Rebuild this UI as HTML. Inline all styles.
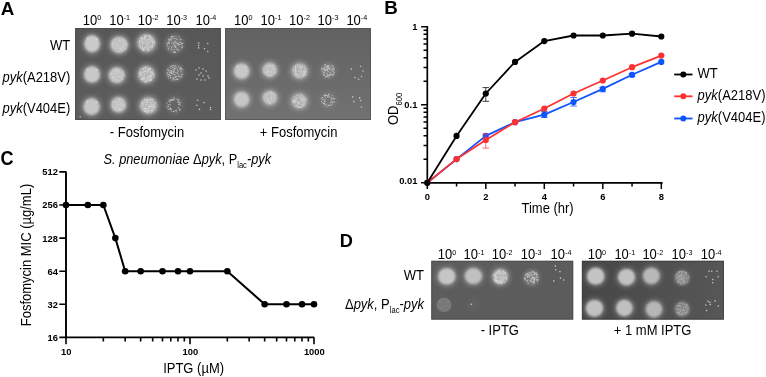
<!DOCTYPE html><html><head><meta charset="utf-8"><style>html,body{margin:0;padding:0;background:#fff;width:766px;height:377px;overflow:hidden}svg{display:block;will-change:transform}</style></head><body><svg width="766" height="377" viewBox="0 0 766 377" font-family="Liberation Sans, sans-serif">
<defs><filter id="b1" x="-30%" y="-30%" width="160%" height="160%"><feGaussianBlur stdDeviation="0.65"/></filter><filter id="b1s" x="-40%" y="-40%" width="180%" height="180%"><feGaussianBlur stdDeviation="0.9"/></filter><filter id="b05" x="-100%" y="-100%" width="300%" height="300%"><feGaussianBlur stdDeviation="0.5"/></filter><filter id="b03" x="-100%" y="-100%" width="300%" height="300%"><feGaussianBlur stdDeviation="0.3"/></filter><filter id="b2" x="-50%" y="-50%" width="200%" height="200%"><feGaussianBlur stdDeviation="2.3"/></filter><linearGradient id="gD2" x1="0" y1="0" x2="1" y2="0"><stop offset="0" stop-color="#464646"/><stop offset="1" stop-color="#575757"/></linearGradient><linearGradient id="gA2" x1="0" y1="0" x2="0" y2="1"><stop offset="0" stop-color="#616161"/><stop offset="1" stop-color="#727272"/></linearGradient><linearGradient id="gA1" x1="0" y1="0" x2="0" y2="1"><stop offset="0" stop-color="#575757"/><stop offset="1" stop-color="#5d5d5d"/></linearGradient></defs>
<rect width="766" height="377" fill="#fff"/>
<text transform="translate(0.80,14.50) scale(1.0,0.985)" font-size="18.8" text-anchor="start" font-weight="bold" font-style="normal" fill="#000">A</text>
<text transform="translate(384.20,14.30) scale(1.0,0.985)" font-size="18.8" text-anchor="start" font-weight="bold" font-style="normal" fill="#000">B</text>
<text transform="translate(0.60,164.70) scale(1.0,1.075)" font-size="18.1" text-anchor="start" font-weight="bold" font-style="normal" fill="#000">C</text>
<text transform="translate(339.70,246.70) scale(1.0,1.02)" font-size="18.2" text-anchor="start" font-weight="bold" font-style="normal" fill="#000">D</text>
<rect x="75" y="28" width="146" height="92" fill="url(#gA1)"/>
<rect x="75.5" y="28.5" width="145" height="91" fill="none" stroke="#4c4c4c" stroke-width="1" opacity="0.8"/>
<rect x="225" y="28" width="146" height="92" fill="url(#gA2)"/>
<rect x="225.5" y="28.5" width="145" height="91" fill="none" stroke="#545454" stroke-width="1" opacity="0.8"/>
<text transform="translate(92.10,24.60) scale(1.0,1.08)" font-size="13" text-anchor="middle" font-weight="normal" font-style="normal" fill="#000">10<tspan font-size="7.2" dy="-4.0">0</tspan></text>
<text transform="translate(119.70,24.60) scale(1.0,1.08)" font-size="13" text-anchor="middle" font-weight="normal" font-style="normal" fill="#000">10<tspan font-size="7.2" dy="-4.0">-1</tspan></text>
<text transform="translate(148.20,24.60) scale(1.0,1.08)" font-size="13" text-anchor="middle" font-weight="normal" font-style="normal" fill="#000">10<tspan font-size="7.2" dy="-4.0">-2</tspan></text>
<text transform="translate(176.70,24.60) scale(1.0,1.08)" font-size="13" text-anchor="middle" font-weight="normal" font-style="normal" fill="#000">10<tspan font-size="7.2" dy="-4.0">-3</tspan></text>
<text transform="translate(205.90,24.60) scale(1.0,1.08)" font-size="13" text-anchor="middle" font-weight="normal" font-style="normal" fill="#000">10<tspan font-size="7.2" dy="-4.0">-4</tspan></text>
<text transform="translate(243.30,24.60) scale(1.0,1.08)" font-size="13" text-anchor="middle" font-weight="normal" font-style="normal" fill="#000">10<tspan font-size="7.2" dy="-4.0">0</tspan></text>
<text transform="translate(271.00,24.60) scale(1.0,1.08)" font-size="13" text-anchor="middle" font-weight="normal" font-style="normal" fill="#000">10<tspan font-size="7.2" dy="-4.0">-1</tspan></text>
<text transform="translate(299.50,24.60) scale(1.0,1.08)" font-size="13" text-anchor="middle" font-weight="normal" font-style="normal" fill="#000">10<tspan font-size="7.2" dy="-4.0">-2</tspan></text>
<text transform="translate(328.00,24.60) scale(1.0,1.08)" font-size="13" text-anchor="middle" font-weight="normal" font-style="normal" fill="#000">10<tspan font-size="7.2" dy="-4.0">-3</tspan></text>
<text transform="translate(356.80,24.60) scale(1.0,1.08)" font-size="13" text-anchor="middle" font-weight="normal" font-style="normal" fill="#000">10<tspan font-size="7.2" dy="-4.0">-4</tspan></text>
<ellipse cx="92.1" cy="43.8" rx="10.2" ry="10.9" fill="#fff" opacity="0.24" filter="url(#b2)"/>
<ellipse cx="92.1" cy="43.8" rx="7.8" ry="8.5" fill="#cacaca" filter="url(#b1s)"/>
<circle cx="87.8" cy="38.5" r="0.9" fill="#d8d8d8" filter="url(#b05)"/>
<circle cx="96.8" cy="39.0" r="0.9" fill="#d8d8d8" filter="url(#b05)"/>
<ellipse cx="119.2" cy="44.8" rx="11.299999999999999" ry="10.9" fill="#fff" opacity="0.24" filter="url(#b2)"/>
<ellipse cx="119.2" cy="44.8" rx="8.799999999999999" ry="8.4" fill="#c0c0c0" filter="url(#b1s)"/>
<g fill="#dadada" filter="url(#b03)"><circle cx="113.5" cy="46.5" r="0.45"/><circle cx="124.1" cy="42.4" r="0.45"/><circle cx="113.1" cy="44.5" r="0.45"/><circle cx="121.5" cy="49.8" r="0.45"/><circle cx="114.3" cy="39.8" r="0.45"/><circle cx="122.9" cy="47.1" r="0.45"/><circle cx="125.3" cy="48.5" r="0.45"/><circle cx="118.6" cy="43.3" r="0.45"/><circle cx="127.0" cy="44.0" r="0.45"/><circle cx="115.6" cy="39.9" r="0.45"/><circle cx="119.7" cy="45.6" r="0.45"/><circle cx="117.3" cy="44.5" r="0.45"/><circle cx="120.6" cy="48.3" r="0.45"/><circle cx="124.6" cy="45.8" r="0.45"/><circle cx="112.4" cy="47.4" r="0.45"/><circle cx="112.8" cy="44.1" r="0.45"/><circle cx="112.7" cy="44.8" r="0.45"/><circle cx="115.1" cy="45.9" r="0.45"/><circle cx="127.2" cy="44.7" r="0.45"/><circle cx="122.8" cy="39.4" r="0.45"/><circle cx="117.7" cy="48.2" r="0.45"/><circle cx="118.7" cy="46.8" r="0.45"/><circle cx="119.7" cy="40.0" r="0.45"/><circle cx="122.0" cy="40.9" r="0.45"/><circle cx="126.3" cy="43.0" r="0.45"/><circle cx="122.9" cy="44.8" r="0.45"/><circle cx="123.8" cy="42.0" r="0.45"/><circle cx="124.2" cy="44.2" r="0.45"/><circle cx="124.9" cy="47.5" r="0.45"/><circle cx="119.9" cy="40.9" r="0.45"/><circle cx="123.1" cy="47.1" r="0.45"/><circle cx="126.0" cy="43.3" r="0.45"/><circle cx="122.1" cy="47.4" r="0.45"/><circle cx="120.8" cy="45.9" r="0.45"/><circle cx="120.2" cy="41.7" r="0.45"/><circle cx="114.2" cy="42.9" r="0.45"/><circle cx="121.7" cy="50.9" r="0.45"/><circle cx="123.6" cy="49.3" r="0.45"/><circle cx="123.1" cy="48.1" r="0.45"/><circle cx="120.2" cy="48.7" r="0.45"/><circle cx="126.3" cy="43.6" r="0.45"/><circle cx="116.7" cy="51.6" r="0.45"/><circle cx="120.4" cy="49.4" r="0.45"/><circle cx="123.1" cy="40.0" r="0.45"/><circle cx="125.6" cy="49.3" r="0.45"/><circle cx="120.1" cy="48.6" r="0.45"/><circle cx="119.9" cy="40.5" r="0.45"/><circle cx="118.6" cy="46.8" r="0.45"/><circle cx="124.4" cy="47.9" r="0.45"/><circle cx="119.5" cy="50.7" r="0.45"/><circle cx="115.5" cy="48.5" r="0.45"/><circle cx="124.6" cy="43.5" r="0.45"/><circle cx="112.6" cy="41.6" r="0.45"/><circle cx="120.5" cy="47.5" r="0.45"/><circle cx="125.3" cy="41.0" r="0.45"/><circle cx="119.2" cy="48.1" r="0.45"/><circle cx="118.7" cy="37.4" r="0.45"/><circle cx="121.8" cy="51.8" r="0.45"/><circle cx="123.8" cy="40.8" r="0.45"/><circle cx="116.9" cy="46.0" r="0.45"/><circle cx="126.8" cy="46.6" r="0.45"/><circle cx="119.7" cy="51.2" r="0.45"/><circle cx="118.9" cy="51.7" r="0.45"/><circle cx="115.6" cy="42.4" r="0.45"/><circle cx="122.3" cy="50.6" r="0.45"/><circle cx="122.7" cy="46.3" r="0.45"/><circle cx="112.3" cy="42.2" r="0.45"/><circle cx="116.0" cy="42.1" r="0.45"/><circle cx="122.3" cy="43.1" r="0.45"/><circle cx="123.3" cy="45.2" r="0.45"/><circle cx="117.3" cy="45.4" r="0.45"/><circle cx="121.4" cy="48.9" r="0.45"/></g>
<ellipse cx="146.5" cy="43" rx="11.6" ry="11.4" fill="#fff" opacity="0.24" filter="url(#b2)"/>
<ellipse cx="146.5" cy="43" rx="9.1" ry="8.9" fill="#b2b2b2" filter="url(#b1s)"/>
<g fill="#e0e0e0" filter="url(#b03)"><circle cx="143.8" cy="41.7" r="0.48"/><circle cx="141.4" cy="48.8" r="0.48"/><circle cx="153.2" cy="42.2" r="0.48"/><circle cx="144.2" cy="37.2" r="0.48"/><circle cx="147.5" cy="44.2" r="0.48"/><circle cx="154.3" cy="43.9" r="0.48"/><circle cx="144.0" cy="35.4" r="0.48"/><circle cx="153.0" cy="43.9" r="0.48"/><circle cx="139.5" cy="43.8" r="0.48"/><circle cx="143.0" cy="50.3" r="0.48"/><circle cx="151.9" cy="45.7" r="0.48"/><circle cx="145.9" cy="35.3" r="0.48"/><circle cx="145.9" cy="36.2" r="0.48"/><circle cx="148.6" cy="35.5" r="0.48"/><circle cx="142.4" cy="48.4" r="0.48"/><circle cx="152.8" cy="38.6" r="0.48"/><circle cx="140.1" cy="46.6" r="0.48"/><circle cx="150.6" cy="38.4" r="0.48"/><circle cx="142.9" cy="39.5" r="0.48"/><circle cx="140.9" cy="39.9" r="0.48"/><circle cx="152.3" cy="46.1" r="0.48"/><circle cx="154.3" cy="42.7" r="0.48"/><circle cx="145.8" cy="38.0" r="0.48"/><circle cx="145.9" cy="36.9" r="0.48"/><circle cx="139.4" cy="45.7" r="0.48"/><circle cx="152.7" cy="46.5" r="0.48"/><circle cx="152.8" cy="44.2" r="0.48"/><circle cx="142.6" cy="43.5" r="0.48"/><circle cx="144.6" cy="37.6" r="0.48"/><circle cx="140.5" cy="37.9" r="0.48"/><circle cx="146.5" cy="43.9" r="0.48"/><circle cx="144.4" cy="49.3" r="0.48"/><circle cx="147.5" cy="46.2" r="0.48"/><circle cx="152.1" cy="39.3" r="0.48"/><circle cx="139.2" cy="45.7" r="0.48"/><circle cx="143.4" cy="48.8" r="0.48"/><circle cx="148.2" cy="48.0" r="0.48"/><circle cx="149.2" cy="35.7" r="0.48"/><circle cx="150.2" cy="39.6" r="0.48"/><circle cx="142.5" cy="40.7" r="0.48"/><circle cx="150.3" cy="47.3" r="0.48"/><circle cx="150.5" cy="36.6" r="0.48"/><circle cx="144.6" cy="35.3" r="0.48"/><circle cx="145.9" cy="46.3" r="0.48"/><circle cx="142.4" cy="44.3" r="0.48"/><circle cx="147.7" cy="48.1" r="0.48"/><circle cx="142.4" cy="39.0" r="0.48"/><circle cx="143.5" cy="49.8" r="0.48"/><circle cx="152.0" cy="42.4" r="0.48"/><circle cx="147.8" cy="43.6" r="0.48"/><circle cx="147.7" cy="41.8" r="0.48"/><circle cx="144.9" cy="37.1" r="0.48"/><circle cx="143.8" cy="49.7" r="0.48"/><circle cx="149.5" cy="43.4" r="0.48"/><circle cx="145.3" cy="43.4" r="0.48"/><circle cx="148.4" cy="39.5" r="0.48"/><circle cx="147.6" cy="44.4" r="0.48"/><circle cx="142.7" cy="39.1" r="0.48"/><circle cx="141.9" cy="38.2" r="0.48"/><circle cx="149.4" cy="35.6" r="0.48"/><circle cx="145.0" cy="39.7" r="0.48"/><circle cx="143.0" cy="43.5" r="0.48"/><circle cx="152.2" cy="43.4" r="0.48"/><circle cx="145.7" cy="39.7" r="0.48"/><circle cx="145.8" cy="47.7" r="0.48"/><circle cx="144.6" cy="37.5" r="0.48"/><circle cx="141.1" cy="38.4" r="0.48"/><circle cx="140.7" cy="47.5" r="0.48"/><circle cx="148.5" cy="41.7" r="0.48"/><circle cx="152.9" cy="40.2" r="0.48"/><circle cx="150.3" cy="47.0" r="0.48"/><circle cx="140.9" cy="37.5" r="0.48"/><circle cx="142.0" cy="47.3" r="0.48"/><circle cx="151.9" cy="38.0" r="0.48"/><circle cx="151.8" cy="41.1" r="0.48"/><circle cx="144.3" cy="40.0" r="0.48"/><circle cx="145.2" cy="35.8" r="0.48"/><circle cx="142.1" cy="37.7" r="0.48"/><circle cx="148.3" cy="50.5" r="0.48"/><circle cx="154.6" cy="42.0" r="0.48"/><circle cx="139.3" cy="41.3" r="0.48"/><circle cx="143.1" cy="50.0" r="0.48"/><circle cx="149.5" cy="39.2" r="0.48"/><circle cx="151.3" cy="45.7" r="0.48"/><circle cx="139.6" cy="40.8" r="0.48"/><circle cx="145.1" cy="43.1" r="0.48"/><circle cx="147.3" cy="41.1" r="0.48"/><circle cx="147.6" cy="39.8" r="0.48"/><circle cx="142.8" cy="49.2" r="0.48"/><circle cx="148.5" cy="45.4" r="0.48"/><circle cx="139.5" cy="42.3" r="0.48"/><circle cx="150.2" cy="37.3" r="0.48"/><circle cx="152.0" cy="41.1" r="0.48"/><circle cx="148.8" cy="42.3" r="0.48"/><circle cx="147.6" cy="48.8" r="0.48"/><circle cx="144.7" cy="49.7" r="0.48"/><circle cx="142.7" cy="38.5" r="0.48"/><circle cx="149.9" cy="38.0" r="0.48"/><circle cx="144.6" cy="47.6" r="0.48"/><circle cx="150.9" cy="36.7" r="0.48"/><circle cx="148.5" cy="50.2" r="0.48"/><circle cx="152.4" cy="41.8" r="0.48"/><circle cx="143.2" cy="41.4" r="0.48"/><circle cx="140.8" cy="41.7" r="0.48"/><circle cx="145.4" cy="42.2" r="0.48"/><circle cx="152.3" cy="41.9" r="0.48"/><circle cx="140.5" cy="47.2" r="0.48"/><circle cx="141.1" cy="40.8" r="0.48"/><circle cx="145.7" cy="41.1" r="0.48"/><circle cx="141.3" cy="41.7" r="0.48"/><circle cx="154.2" cy="40.9" r="0.48"/><circle cx="145.8" cy="48.5" r="0.48"/><circle cx="150.3" cy="46.8" r="0.48"/><circle cx="149.7" cy="36.0" r="0.48"/><circle cx="141.9" cy="43.7" r="0.48"/><circle cx="148.8" cy="48.9" r="0.48"/><circle cx="149.2" cy="41.7" r="0.48"/><circle cx="146.7" cy="41.8" r="0.48"/><circle cx="147.9" cy="46.6" r="0.48"/><circle cx="144.7" cy="38.8" r="0.48"/><circle cx="142.5" cy="48.0" r="0.48"/><circle cx="152.1" cy="47.2" r="0.48"/><circle cx="150.7" cy="47.0" r="0.48"/><circle cx="146.5" cy="46.6" r="0.48"/><circle cx="141.1" cy="42.0" r="0.48"/><circle cx="142.7" cy="46.7" r="0.48"/><circle cx="143.2" cy="42.4" r="0.48"/><circle cx="148.4" cy="49.2" r="0.48"/><circle cx="142.6" cy="38.5" r="0.48"/><circle cx="150.3" cy="37.9" r="0.48"/><circle cx="149.0" cy="39.9" r="0.48"/><circle cx="146.1" cy="35.7" r="0.48"/><circle cx="150.3" cy="40.4" r="0.48"/><circle cx="143.3" cy="50.1" r="0.48"/><circle cx="148.1" cy="50.9" r="0.48"/></g>
<ellipse cx="174.5" cy="44.1" rx="10.7" ry="10.9" fill="#fff" opacity="0.08" filter="url(#b2)"/>
<ellipse cx="174.5" cy="44.1" rx="9.299999999999999" ry="9.5" fill="#747474" filter="url(#b1s)"/>
<g fill="#cacaca" filter="url(#b03)"><circle cx="176.9" cy="42.0" r="0.5"/><circle cx="175.0" cy="51.5" r="0.5"/><circle cx="174.3" cy="46.8" r="0.5"/><circle cx="177.2" cy="39.2" r="0.5"/><circle cx="175.2" cy="41.1" r="0.5"/><circle cx="168.8" cy="48.2" r="0.5"/><circle cx="178.3" cy="44.5" r="0.5"/><circle cx="171.2" cy="36.6" r="0.5"/><circle cx="177.3" cy="43.5" r="0.5"/><circle cx="167.1" cy="43.8" r="0.5"/><circle cx="167.5" cy="44.0" r="0.5"/><circle cx="175.3" cy="46.2" r="0.5"/><circle cx="175.8" cy="45.1" r="0.5"/><circle cx="168.7" cy="42.1" r="0.5"/><circle cx="171.6" cy="42.7" r="0.5"/><circle cx="176.0" cy="47.7" r="0.5"/><circle cx="179.0" cy="36.8" r="0.5"/><circle cx="176.8" cy="42.9" r="0.5"/><circle cx="182.1" cy="47.3" r="0.5"/><circle cx="167.3" cy="45.9" r="0.5"/><circle cx="171.8" cy="49.3" r="0.5"/><circle cx="169.0" cy="43.6" r="0.5"/><circle cx="173.7" cy="43.5" r="0.5"/><circle cx="172.1" cy="36.5" r="0.5"/><circle cx="176.9" cy="49.4" r="0.5"/><circle cx="174.1" cy="38.6" r="0.5"/><circle cx="175.7" cy="47.4" r="0.5"/><circle cx="173.5" cy="44.0" r="0.5"/><circle cx="180.4" cy="39.3" r="0.5"/><circle cx="172.3" cy="36.4" r="0.5"/><circle cx="170.8" cy="40.1" r="0.5"/><circle cx="169.6" cy="40.5" r="0.5"/><circle cx="182.0" cy="43.3" r="0.5"/><circle cx="174.1" cy="52.3" r="0.5"/><circle cx="174.2" cy="36.5" r="0.5"/><circle cx="176.6" cy="39.0" r="0.5"/><circle cx="180.8" cy="39.2" r="0.5"/><circle cx="172.0" cy="37.0" r="0.5"/><circle cx="175.0" cy="38.6" r="0.5"/><circle cx="174.1" cy="41.8" r="0.5"/><circle cx="171.3" cy="49.1" r="0.5"/><circle cx="179.5" cy="44.4" r="0.5"/><circle cx="170.2" cy="38.9" r="0.5"/><circle cx="175.4" cy="52.5" r="0.5"/><circle cx="172.0" cy="39.8" r="0.5"/><circle cx="171.1" cy="38.6" r="0.5"/><circle cx="169.3" cy="43.0" r="0.5"/><circle cx="181.3" cy="44.1" r="0.5"/><circle cx="172.3" cy="36.9" r="0.5"/><circle cx="175.8" cy="43.9" r="0.5"/><circle cx="169.1" cy="39.2" r="0.5"/><circle cx="174.3" cy="49.6" r="0.5"/><circle cx="178.1" cy="45.3" r="0.5"/><circle cx="172.6" cy="46.0" r="0.5"/><circle cx="174.5" cy="52.3" r="0.5"/><circle cx="168.8" cy="42.2" r="0.5"/><circle cx="180.7" cy="42.8" r="0.5"/><circle cx="181.3" cy="43.9" r="0.5"/><circle cx="175.4" cy="41.9" r="0.5"/><circle cx="168.5" cy="39.8" r="0.5"/><circle cx="182.3" cy="46.4" r="0.5"/><circle cx="177.6" cy="49.1" r="0.5"/><circle cx="177.4" cy="49.4" r="0.5"/><circle cx="172.9" cy="42.8" r="0.5"/><circle cx="179.7" cy="42.2" r="0.5"/><circle cx="168.0" cy="43.0" r="0.5"/><circle cx="171.5" cy="47.6" r="0.5"/><circle cx="170.9" cy="38.7" r="0.5"/><circle cx="173.0" cy="51.3" r="0.5"/><circle cx="174.2" cy="45.1" r="0.5"/><circle cx="174.6" cy="45.9" r="0.5"/><circle cx="178.6" cy="50.4" r="0.5"/><circle cx="168.3" cy="49.3" r="0.5"/><circle cx="174.5" cy="42.2" r="0.5"/><circle cx="182.7" cy="43.5" r="0.5"/><circle cx="181.7" cy="47.8" r="0.5"/><circle cx="169.2" cy="46.7" r="0.5"/><circle cx="178.6" cy="43.4" r="0.5"/></g>
<g fill="#c4c4c4" filter="url(#b05)"><circle cx="198.6" cy="43.1" r="0.8"/><circle cx="198.6" cy="45.5" r="0.8"/><circle cx="198.6" cy="47.9" r="0.8"/><circle cx="204.5" cy="48.7" r="0.8"/><circle cx="207.7" cy="43.5" r="0.8"/><circle cx="207.7" cy="51.5" r="0.8"/></g>
<ellipse cx="92" cy="74.4" rx="10.4" ry="10.5" fill="#fff" opacity="0.24" filter="url(#b2)"/>
<ellipse cx="92" cy="74.4" rx="8.0" ry="8.1" fill="#c8c8c8" filter="url(#b1s)"/>
<circle cx="87.6" cy="69.4" r="0.9" fill="#d8d8d8" filter="url(#b05)"/>
<circle cx="96.9" cy="69.8" r="0.9" fill="#d8d8d8" filter="url(#b05)"/>
<ellipse cx="116.8" cy="75.3" rx="10.7" ry="10.5" fill="#fff" opacity="0.24" filter="url(#b2)"/>
<ellipse cx="116.8" cy="75.3" rx="8.2" ry="8.0" fill="#c0c0c0" filter="url(#b1s)"/>
<g fill="#dadada" filter="url(#b03)"><circle cx="109.7" cy="74.3" r="0.45"/><circle cx="115.9" cy="70.4" r="0.45"/><circle cx="123.5" cy="74.4" r="0.45"/><circle cx="114.8" cy="73.8" r="0.45"/><circle cx="113.2" cy="71.8" r="0.45"/><circle cx="117.3" cy="76.9" r="0.45"/><circle cx="114.2" cy="74.9" r="0.45"/><circle cx="111.1" cy="77.4" r="0.45"/><circle cx="113.1" cy="76.3" r="0.45"/><circle cx="112.6" cy="73.0" r="0.45"/><circle cx="117.7" cy="70.1" r="0.45"/><circle cx="124.1" cy="75.2" r="0.45"/><circle cx="116.4" cy="71.8" r="0.45"/><circle cx="122.1" cy="79.8" r="0.45"/><circle cx="118.1" cy="69.7" r="0.45"/><circle cx="114.3" cy="78.2" r="0.45"/><circle cx="114.6" cy="70.3" r="0.45"/><circle cx="111.8" cy="72.2" r="0.45"/><circle cx="116.9" cy="72.1" r="0.45"/><circle cx="116.8" cy="82.5" r="0.45"/><circle cx="122.8" cy="71.9" r="0.45"/><circle cx="118.6" cy="75.7" r="0.45"/><circle cx="116.2" cy="80.0" r="0.45"/><circle cx="115.1" cy="73.7" r="0.45"/><circle cx="114.9" cy="74.8" r="0.45"/><circle cx="122.0" cy="78.4" r="0.45"/><circle cx="111.2" cy="73.5" r="0.45"/><circle cx="113.2" cy="78.9" r="0.45"/><circle cx="117.9" cy="79.4" r="0.45"/><circle cx="116.6" cy="68.6" r="0.45"/><circle cx="119.1" cy="76.4" r="0.45"/><circle cx="118.9" cy="70.0" r="0.45"/><circle cx="117.2" cy="72.0" r="0.45"/><circle cx="113.4" cy="77.0" r="0.45"/><circle cx="118.5" cy="71.2" r="0.45"/><circle cx="112.6" cy="69.4" r="0.45"/><circle cx="114.3" cy="80.1" r="0.45"/><circle cx="116.6" cy="68.3" r="0.45"/><circle cx="112.7" cy="77.2" r="0.45"/><circle cx="122.5" cy="79.2" r="0.45"/><circle cx="118.7" cy="76.3" r="0.45"/><circle cx="112.0" cy="73.3" r="0.45"/><circle cx="115.2" cy="71.7" r="0.45"/><circle cx="117.1" cy="73.3" r="0.45"/><circle cx="118.2" cy="81.1" r="0.45"/><circle cx="120.4" cy="77.3" r="0.45"/><circle cx="115.8" cy="69.3" r="0.45"/><circle cx="116.2" cy="78.0" r="0.45"/><circle cx="112.8" cy="80.1" r="0.45"/><circle cx="115.1" cy="77.2" r="0.45"/><circle cx="115.4" cy="70.0" r="0.45"/><circle cx="123.1" cy="71.8" r="0.45"/><circle cx="121.0" cy="72.8" r="0.45"/><circle cx="118.1" cy="71.5" r="0.45"/><circle cx="114.9" cy="79.5" r="0.45"/><circle cx="123.3" cy="72.6" r="0.45"/><circle cx="116.8" cy="79.7" r="0.45"/><circle cx="113.8" cy="78.6" r="0.45"/><circle cx="113.1" cy="78.1" r="0.45"/><circle cx="118.7" cy="80.4" r="0.45"/><circle cx="118.4" cy="70.2" r="0.45"/><circle cx="119.7" cy="70.6" r="0.45"/><circle cx="119.7" cy="81.0" r="0.45"/><circle cx="119.7" cy="72.7" r="0.45"/><circle cx="122.1" cy="76.0" r="0.45"/><circle cx="111.4" cy="73.8" r="0.45"/><circle cx="122.7" cy="74.1" r="0.45"/><circle cx="117.4" cy="73.6" r="0.45"/><circle cx="110.5" cy="73.4" r="0.45"/><circle cx="118.6" cy="76.3" r="0.45"/><circle cx="116.2" cy="68.4" r="0.45"/><circle cx="121.9" cy="78.2" r="0.45"/></g>
<ellipse cx="146.4" cy="74.5" rx="10.9" ry="11.0" fill="#fff" opacity="0.24" filter="url(#b2)"/>
<ellipse cx="146.4" cy="74.5" rx="8.4" ry="8.5" fill="#b2b2b2" filter="url(#b1s)"/>
<g fill="#e0e0e0" filter="url(#b03)"><circle cx="150.5" cy="79.7" r="0.48"/><circle cx="144.2" cy="71.4" r="0.48"/><circle cx="147.6" cy="81.1" r="0.48"/><circle cx="139.8" cy="73.6" r="0.48"/><circle cx="142.9" cy="77.3" r="0.48"/><circle cx="152.5" cy="73.2" r="0.48"/><circle cx="140.8" cy="74.7" r="0.48"/><circle cx="145.2" cy="68.1" r="0.48"/><circle cx="150.6" cy="72.0" r="0.48"/><circle cx="149.3" cy="68.9" r="0.48"/><circle cx="150.5" cy="69.0" r="0.48"/><circle cx="150.0" cy="68.2" r="0.48"/><circle cx="152.3" cy="72.9" r="0.48"/><circle cx="140.0" cy="73.5" r="0.48"/><circle cx="148.0" cy="69.7" r="0.48"/><circle cx="143.8" cy="75.9" r="0.48"/><circle cx="146.0" cy="66.8" r="0.48"/><circle cx="144.2" cy="76.7" r="0.48"/><circle cx="147.8" cy="79.3" r="0.48"/><circle cx="144.4" cy="81.8" r="0.48"/><circle cx="150.4" cy="76.1" r="0.48"/><circle cx="151.0" cy="78.6" r="0.48"/><circle cx="146.9" cy="71.3" r="0.48"/><circle cx="151.2" cy="76.5" r="0.48"/><circle cx="140.1" cy="70.8" r="0.48"/><circle cx="148.9" cy="75.1" r="0.48"/><circle cx="147.8" cy="77.8" r="0.48"/><circle cx="147.0" cy="81.0" r="0.48"/><circle cx="143.4" cy="72.4" r="0.48"/><circle cx="148.0" cy="78.3" r="0.48"/><circle cx="149.5" cy="80.4" r="0.48"/><circle cx="144.3" cy="79.8" r="0.48"/><circle cx="148.6" cy="69.6" r="0.48"/><circle cx="145.9" cy="81.8" r="0.48"/><circle cx="150.2" cy="72.2" r="0.48"/><circle cx="139.3" cy="72.3" r="0.48"/><circle cx="142.8" cy="74.9" r="0.48"/><circle cx="153.5" cy="76.8" r="0.48"/><circle cx="147.9" cy="70.0" r="0.48"/><circle cx="141.0" cy="73.5" r="0.48"/><circle cx="145.2" cy="82.1" r="0.48"/><circle cx="144.4" cy="71.4" r="0.48"/><circle cx="151.6" cy="74.9" r="0.48"/><circle cx="141.7" cy="79.5" r="0.48"/><circle cx="145.0" cy="68.6" r="0.48"/><circle cx="148.1" cy="77.1" r="0.48"/><circle cx="144.7" cy="78.0" r="0.48"/><circle cx="150.1" cy="70.4" r="0.48"/><circle cx="141.4" cy="68.7" r="0.48"/><circle cx="145.8" cy="80.1" r="0.48"/><circle cx="150.3" cy="80.0" r="0.48"/><circle cx="153.3" cy="74.6" r="0.48"/><circle cx="150.3" cy="68.7" r="0.48"/><circle cx="149.8" cy="76.5" r="0.48"/><circle cx="145.9" cy="72.1" r="0.48"/><circle cx="141.2" cy="75.2" r="0.48"/><circle cx="152.0" cy="72.9" r="0.48"/><circle cx="149.0" cy="71.2" r="0.48"/><circle cx="147.6" cy="69.7" r="0.48"/><circle cx="148.4" cy="73.3" r="0.48"/><circle cx="148.0" cy="71.4" r="0.48"/><circle cx="141.1" cy="73.0" r="0.48"/><circle cx="150.2" cy="80.4" r="0.48"/><circle cx="144.8" cy="78.5" r="0.48"/><circle cx="150.1" cy="76.5" r="0.48"/><circle cx="140.1" cy="75.8" r="0.48"/><circle cx="142.4" cy="79.4" r="0.48"/><circle cx="150.2" cy="77.5" r="0.48"/><circle cx="139.1" cy="76.3" r="0.48"/><circle cx="149.4" cy="69.0" r="0.48"/><circle cx="151.1" cy="74.9" r="0.48"/><circle cx="145.5" cy="70.9" r="0.48"/><circle cx="141.6" cy="72.4" r="0.48"/><circle cx="154.0" cy="75.0" r="0.48"/><circle cx="147.5" cy="71.2" r="0.48"/><circle cx="143.3" cy="71.7" r="0.48"/><circle cx="142.4" cy="78.5" r="0.48"/><circle cx="145.1" cy="78.8" r="0.48"/><circle cx="141.5" cy="78.5" r="0.48"/><circle cx="146.3" cy="78.0" r="0.48"/><circle cx="145.9" cy="70.1" r="0.48"/><circle cx="151.8" cy="72.5" r="0.48"/><circle cx="145.7" cy="70.1" r="0.48"/><circle cx="147.5" cy="72.4" r="0.48"/><circle cx="147.9" cy="76.3" r="0.48"/><circle cx="143.6" cy="68.7" r="0.48"/><circle cx="148.5" cy="78.9" r="0.48"/><circle cx="149.5" cy="69.4" r="0.48"/><circle cx="149.5" cy="76.5" r="0.48"/><circle cx="147.9" cy="76.8" r="0.48"/><circle cx="144.7" cy="75.7" r="0.48"/><circle cx="150.8" cy="72.1" r="0.48"/><circle cx="140.3" cy="74.0" r="0.48"/><circle cx="147.1" cy="67.5" r="0.48"/><circle cx="143.1" cy="77.4" r="0.48"/><circle cx="145.6" cy="75.0" r="0.48"/><circle cx="141.2" cy="78.3" r="0.48"/><circle cx="153.1" cy="73.7" r="0.48"/><circle cx="143.2" cy="69.4" r="0.48"/><circle cx="150.8" cy="75.0" r="0.48"/><circle cx="143.0" cy="79.7" r="0.48"/><circle cx="150.1" cy="77.4" r="0.48"/><circle cx="139.6" cy="74.1" r="0.48"/><circle cx="149.1" cy="69.1" r="0.48"/><circle cx="150.0" cy="80.2" r="0.48"/><circle cx="151.0" cy="71.2" r="0.48"/><circle cx="143.2" cy="78.9" r="0.48"/><circle cx="150.5" cy="79.6" r="0.48"/><circle cx="151.9" cy="74.0" r="0.48"/><circle cx="144.9" cy="67.6" r="0.48"/><circle cx="148.8" cy="81.6" r="0.48"/><circle cx="144.0" cy="72.0" r="0.48"/><circle cx="149.7" cy="76.4" r="0.48"/><circle cx="140.7" cy="71.5" r="0.48"/><circle cx="142.9" cy="81.0" r="0.48"/><circle cx="143.1" cy="78.5" r="0.48"/><circle cx="151.8" cy="79.9" r="0.48"/><circle cx="151.2" cy="80.0" r="0.48"/><circle cx="140.9" cy="72.9" r="0.48"/><circle cx="142.8" cy="73.0" r="0.48"/><circle cx="152.8" cy="70.3" r="0.48"/><circle cx="148.8" cy="69.0" r="0.48"/><circle cx="151.4" cy="79.4" r="0.48"/><circle cx="144.7" cy="81.6" r="0.48"/><circle cx="146.7" cy="80.3" r="0.48"/><circle cx="148.0" cy="71.6" r="0.48"/><circle cx="144.4" cy="73.9" r="0.48"/><circle cx="149.6" cy="75.2" r="0.48"/><circle cx="153.8" cy="73.9" r="0.48"/><circle cx="144.1" cy="70.9" r="0.48"/><circle cx="143.3" cy="68.7" r="0.48"/><circle cx="142.1" cy="78.5" r="0.48"/><circle cx="146.7" cy="73.6" r="0.48"/><circle cx="148.0" cy="79.5" r="0.48"/><circle cx="149.4" cy="78.3" r="0.48"/></g>
<ellipse cx="174.9" cy="72.7" rx="10.3" ry="10.1" fill="#fff" opacity="0.08" filter="url(#b2)"/>
<ellipse cx="174.9" cy="72.7" rx="8.9" ry="8.7" fill="#777777" filter="url(#b1s)"/>
<g fill="#cacaca" filter="url(#b03)"><circle cx="171.8" cy="71.3" r="0.5"/><circle cx="170.8" cy="72.2" r="0.5"/><circle cx="170.7" cy="70.8" r="0.5"/><circle cx="173.9" cy="71.5" r="0.5"/><circle cx="173.4" cy="70.1" r="0.5"/><circle cx="181.0" cy="71.1" r="0.5"/><circle cx="169.8" cy="73.7" r="0.5"/><circle cx="170.1" cy="68.1" r="0.5"/><circle cx="175.3" cy="65.8" r="0.5"/><circle cx="166.9" cy="73.4" r="0.5"/><circle cx="178.8" cy="66.5" r="0.5"/><circle cx="170.4" cy="75.5" r="0.5"/><circle cx="167.8" cy="69.7" r="0.5"/><circle cx="169.1" cy="71.8" r="0.5"/><circle cx="167.9" cy="75.8" r="0.5"/><circle cx="174.1" cy="74.4" r="0.5"/><circle cx="173.7" cy="65.3" r="0.5"/><circle cx="174.2" cy="66.6" r="0.5"/><circle cx="175.0" cy="68.3" r="0.5"/><circle cx="173.1" cy="71.5" r="0.5"/><circle cx="178.7" cy="76.4" r="0.5"/><circle cx="169.8" cy="72.6" r="0.5"/><circle cx="181.3" cy="74.8" r="0.5"/><circle cx="171.0" cy="72.1" r="0.5"/><circle cx="173.1" cy="77.4" r="0.5"/><circle cx="175.1" cy="74.8" r="0.5"/><circle cx="181.7" cy="68.6" r="0.5"/><circle cx="171.1" cy="66.3" r="0.5"/><circle cx="168.5" cy="76.1" r="0.5"/><circle cx="176.1" cy="79.4" r="0.5"/><circle cx="167.9" cy="69.6" r="0.5"/><circle cx="180.8" cy="76.8" r="0.5"/><circle cx="179.1" cy="76.8" r="0.5"/><circle cx="175.1" cy="72.6" r="0.5"/><circle cx="175.1" cy="77.0" r="0.5"/><circle cx="174.0" cy="74.5" r="0.5"/><circle cx="180.7" cy="68.3" r="0.5"/><circle cx="171.0" cy="75.5" r="0.5"/><circle cx="173.4" cy="71.8" r="0.5"/><circle cx="182.4" cy="74.2" r="0.5"/><circle cx="172.9" cy="77.9" r="0.5"/><circle cx="182.2" cy="69.5" r="0.5"/><circle cx="171.3" cy="73.3" r="0.5"/><circle cx="172.7" cy="80.0" r="0.5"/><circle cx="177.8" cy="70.6" r="0.5"/><circle cx="177.4" cy="68.7" r="0.5"/><circle cx="171.6" cy="73.3" r="0.5"/><circle cx="180.8" cy="67.3" r="0.5"/><circle cx="176.8" cy="78.7" r="0.5"/><circle cx="177.6" cy="79.6" r="0.5"/><circle cx="177.4" cy="73.5" r="0.5"/><circle cx="174.2" cy="68.3" r="0.5"/><circle cx="181.0" cy="68.4" r="0.5"/><circle cx="174.2" cy="69.9" r="0.5"/><circle cx="172.3" cy="65.5" r="0.5"/><circle cx="172.8" cy="73.5" r="0.5"/><circle cx="175.7" cy="77.0" r="0.5"/><circle cx="174.0" cy="69.3" r="0.5"/><circle cx="176.6" cy="76.2" r="0.5"/><circle cx="171.2" cy="66.7" r="0.5"/><circle cx="170.3" cy="77.3" r="0.5"/><circle cx="179.5" cy="68.7" r="0.5"/><circle cx="175.5" cy="77.0" r="0.5"/><circle cx="180.8" cy="69.8" r="0.5"/><circle cx="173.8" cy="78.9" r="0.5"/><circle cx="181.7" cy="76.9" r="0.5"/><circle cx="169.4" cy="74.8" r="0.5"/><circle cx="173.2" cy="72.4" r="0.5"/><circle cx="171.4" cy="70.2" r="0.5"/><circle cx="174.9" cy="79.8" r="0.5"/><circle cx="178.6" cy="74.9" r="0.5"/><circle cx="175.0" cy="68.8" r="0.5"/><circle cx="173.8" cy="78.5" r="0.5"/><circle cx="177.9" cy="79.6" r="0.5"/><circle cx="176.4" cy="72.6" r="0.5"/><circle cx="168.1" cy="74.3" r="0.5"/><circle cx="169.1" cy="77.8" r="0.5"/><circle cx="171.5" cy="72.7" r="0.5"/><circle cx="168.8" cy="70.5" r="0.5"/><circle cx="170.7" cy="77.7" r="0.5"/><circle cx="176.1" cy="67.1" r="0.5"/><circle cx="167.5" cy="72.4" r="0.5"/><circle cx="172.6" cy="67.5" r="0.5"/><circle cx="178.1" cy="71.7" r="0.5"/></g>
<g fill="#c4c4c4" filter="url(#b05)"><circle cx="196" cy="70" r="0.8"/><circle cx="199" cy="68" r="0.8"/><circle cx="203" cy="69" r="0.8"/><circle cx="206" cy="71" r="0.8"/><circle cx="199" cy="75" r="0.8"/><circle cx="203" cy="76" r="0.8"/><circle cx="208" cy="76" r="0.8"/><circle cx="197" cy="79" r="0.8"/><circle cx="201" cy="80" r="0.8"/><circle cx="205" cy="80" r="0.8"/><circle cx="209" cy="78" r="0.8"/><circle cx="201" cy="73" r="0.8"/></g>
<ellipse cx="91.6" cy="106.6" rx="10.5" ry="10.7" fill="#fff" opacity="0.24" filter="url(#b2)"/>
<ellipse cx="91.6" cy="106.6" rx="8.1" ry="8.299999999999999" fill="#c6c6c6" filter="url(#b1s)"/>
<circle cx="87.1" cy="101.5" r="0.9" fill="#d8d8d8" filter="url(#b05)"/>
<circle cx="96.5" cy="101.9" r="0.9" fill="#d8d8d8" filter="url(#b05)"/>
<ellipse cx="118.5" cy="104.8" rx="10.1" ry="10.2" fill="#fff" opacity="0.24" filter="url(#b2)"/>
<ellipse cx="118.5" cy="104.8" rx="7.6" ry="7.699999999999999" fill="#c0c0c0" filter="url(#b1s)"/>
<g fill="#dadada" filter="url(#b03)"><circle cx="119.0" cy="102.0" r="0.45"/><circle cx="115.9" cy="102.7" r="0.45"/><circle cx="112.9" cy="107.0" r="0.45"/><circle cx="119.9" cy="98.7" r="0.45"/><circle cx="118.9" cy="109.7" r="0.45"/><circle cx="119.4" cy="110.0" r="0.45"/><circle cx="117.2" cy="104.8" r="0.45"/><circle cx="113.7" cy="101.4" r="0.45"/><circle cx="112.7" cy="101.9" r="0.45"/><circle cx="119.6" cy="107.3" r="0.45"/><circle cx="123.3" cy="105.3" r="0.45"/><circle cx="114.3" cy="106.7" r="0.45"/><circle cx="118.0" cy="111.0" r="0.45"/><circle cx="124.4" cy="107.7" r="0.45"/><circle cx="113.9" cy="102.6" r="0.45"/><circle cx="119.4" cy="101.5" r="0.45"/><circle cx="120.8" cy="107.9" r="0.45"/><circle cx="122.2" cy="105.8" r="0.45"/><circle cx="114.9" cy="101.3" r="0.45"/><circle cx="118.0" cy="110.1" r="0.45"/><circle cx="123.8" cy="108.1" r="0.45"/><circle cx="120.1" cy="107.9" r="0.45"/><circle cx="121.6" cy="109.7" r="0.45"/><circle cx="121.5" cy="99.4" r="0.45"/><circle cx="122.6" cy="106.5" r="0.45"/><circle cx="116.4" cy="107.2" r="0.45"/><circle cx="119.9" cy="104.5" r="0.45"/><circle cx="112.5" cy="105.2" r="0.45"/><circle cx="121.1" cy="104.6" r="0.45"/><circle cx="112.8" cy="106.5" r="0.45"/><circle cx="121.8" cy="105.6" r="0.45"/><circle cx="120.5" cy="103.1" r="0.45"/><circle cx="115.6" cy="107.2" r="0.45"/><circle cx="116.8" cy="105.7" r="0.45"/><circle cx="125.2" cy="106.3" r="0.45"/><circle cx="119.0" cy="98.8" r="0.45"/><circle cx="118.9" cy="108.3" r="0.45"/><circle cx="115.3" cy="103.7" r="0.45"/><circle cx="112.0" cy="106.4" r="0.45"/><circle cx="115.9" cy="107.9" r="0.45"/><circle cx="123.9" cy="104.2" r="0.45"/><circle cx="122.7" cy="105.9" r="0.45"/><circle cx="117.5" cy="103.4" r="0.45"/><circle cx="115.3" cy="109.7" r="0.45"/><circle cx="122.0" cy="100.8" r="0.45"/><circle cx="122.0" cy="101.7" r="0.45"/><circle cx="113.5" cy="108.8" r="0.45"/><circle cx="114.0" cy="109.0" r="0.45"/><circle cx="119.4" cy="108.8" r="0.45"/><circle cx="120.6" cy="109.5" r="0.45"/><circle cx="120.1" cy="107.5" r="0.45"/><circle cx="119.5" cy="109.5" r="0.45"/><circle cx="116.8" cy="109.2" r="0.45"/><circle cx="124.2" cy="104.6" r="0.45"/><circle cx="120.5" cy="102.4" r="0.45"/><circle cx="117.1" cy="106.1" r="0.45"/><circle cx="117.0" cy="100.9" r="0.45"/><circle cx="118.4" cy="105.7" r="0.45"/><circle cx="120.0" cy="108.1" r="0.45"/><circle cx="113.3" cy="109.0" r="0.45"/><circle cx="117.7" cy="101.3" r="0.45"/><circle cx="116.8" cy="106.9" r="0.45"/><circle cx="122.3" cy="103.2" r="0.45"/><circle cx="119.1" cy="98.9" r="0.45"/><circle cx="119.3" cy="104.2" r="0.45"/><circle cx="116.6" cy="108.7" r="0.45"/><circle cx="124.1" cy="108.1" r="0.45"/><circle cx="115.7" cy="110.3" r="0.45"/><circle cx="116.9" cy="104.6" r="0.45"/><circle cx="115.9" cy="106.9" r="0.45"/><circle cx="121.1" cy="105.5" r="0.45"/><circle cx="117.5" cy="104.1" r="0.45"/></g>
<ellipse cx="148.5" cy="105.6" rx="11.2" ry="10.9" fill="#fff" opacity="0.24" filter="url(#b2)"/>
<ellipse cx="148.5" cy="105.6" rx="8.7" ry="8.4" fill="#b2b2b2" filter="url(#b1s)"/>
<g fill="#e0e0e0" filter="url(#b03)"><circle cx="146.5" cy="110.2" r="0.48"/><circle cx="145.7" cy="104.8" r="0.48"/><circle cx="147.4" cy="101.8" r="0.48"/><circle cx="147.5" cy="99.4" r="0.48"/><circle cx="150.7" cy="108.4" r="0.48"/><circle cx="147.2" cy="111.9" r="0.48"/><circle cx="144.4" cy="108.3" r="0.48"/><circle cx="151.0" cy="102.9" r="0.48"/><circle cx="147.3" cy="109.9" r="0.48"/><circle cx="148.8" cy="107.1" r="0.48"/><circle cx="154.7" cy="106.5" r="0.48"/><circle cx="142.0" cy="102.8" r="0.48"/><circle cx="152.8" cy="105.0" r="0.48"/><circle cx="144.9" cy="99.2" r="0.48"/><circle cx="149.9" cy="111.8" r="0.48"/><circle cx="144.6" cy="99.1" r="0.48"/><circle cx="151.1" cy="102.9" r="0.48"/><circle cx="146.9" cy="103.9" r="0.48"/><circle cx="144.0" cy="107.7" r="0.48"/><circle cx="153.1" cy="107.3" r="0.48"/><circle cx="145.9" cy="110.3" r="0.48"/><circle cx="147.9" cy="108.6" r="0.48"/><circle cx="144.0" cy="108.6" r="0.48"/><circle cx="151.7" cy="111.0" r="0.48"/><circle cx="148.7" cy="107.9" r="0.48"/><circle cx="145.7" cy="109.8" r="0.48"/><circle cx="152.0" cy="110.3" r="0.48"/><circle cx="146.7" cy="100.2" r="0.48"/><circle cx="148.1" cy="104.5" r="0.48"/><circle cx="144.8" cy="108.5" r="0.48"/><circle cx="153.1" cy="107.5" r="0.48"/><circle cx="153.7" cy="107.4" r="0.48"/><circle cx="143.9" cy="102.9" r="0.48"/><circle cx="146.7" cy="109.0" r="0.48"/><circle cx="153.1" cy="106.3" r="0.48"/><circle cx="153.1" cy="102.0" r="0.48"/><circle cx="148.0" cy="111.8" r="0.48"/><circle cx="150.6" cy="110.4" r="0.48"/><circle cx="142.7" cy="100.7" r="0.48"/><circle cx="144.6" cy="110.0" r="0.48"/><circle cx="155.0" cy="103.2" r="0.48"/><circle cx="144.2" cy="101.3" r="0.48"/><circle cx="144.2" cy="108.2" r="0.48"/><circle cx="147.3" cy="112.5" r="0.48"/><circle cx="152.1" cy="102.4" r="0.48"/><circle cx="149.8" cy="104.8" r="0.48"/><circle cx="152.2" cy="109.7" r="0.48"/><circle cx="146.8" cy="109.9" r="0.48"/><circle cx="151.5" cy="105.2" r="0.48"/><circle cx="149.8" cy="109.0" r="0.48"/><circle cx="146.9" cy="102.3" r="0.48"/><circle cx="154.3" cy="105.6" r="0.48"/><circle cx="145.5" cy="107.9" r="0.48"/><circle cx="142.1" cy="105.8" r="0.48"/><circle cx="142.5" cy="103.8" r="0.48"/><circle cx="141.8" cy="103.0" r="0.48"/><circle cx="153.0" cy="104.7" r="0.48"/><circle cx="144.2" cy="111.5" r="0.48"/><circle cx="145.9" cy="111.6" r="0.48"/><circle cx="146.3" cy="99.6" r="0.48"/><circle cx="155.5" cy="104.0" r="0.48"/><circle cx="151.9" cy="110.7" r="0.48"/><circle cx="142.6" cy="105.9" r="0.48"/><circle cx="145.6" cy="108.6" r="0.48"/><circle cx="148.5" cy="100.0" r="0.48"/><circle cx="148.8" cy="109.4" r="0.48"/><circle cx="147.0" cy="108.5" r="0.48"/><circle cx="145.7" cy="105.4" r="0.48"/><circle cx="150.4" cy="106.4" r="0.48"/><circle cx="153.8" cy="109.4" r="0.48"/><circle cx="152.5" cy="108.9" r="0.48"/><circle cx="149.3" cy="100.4" r="0.48"/><circle cx="152.3" cy="111.7" r="0.48"/><circle cx="149.8" cy="104.3" r="0.48"/><circle cx="148.4" cy="111.0" r="0.48"/><circle cx="149.9" cy="101.0" r="0.48"/><circle cx="147.7" cy="101.9" r="0.48"/><circle cx="147.5" cy="101.3" r="0.48"/><circle cx="145.0" cy="111.4" r="0.48"/><circle cx="152.5" cy="99.8" r="0.48"/><circle cx="143.8" cy="103.6" r="0.48"/><circle cx="146.8" cy="99.8" r="0.48"/><circle cx="151.9" cy="99.6" r="0.48"/><circle cx="151.9" cy="108.9" r="0.48"/><circle cx="146.7" cy="102.4" r="0.48"/><circle cx="148.9" cy="106.4" r="0.48"/><circle cx="141.9" cy="101.8" r="0.48"/><circle cx="151.3" cy="105.1" r="0.48"/><circle cx="146.5" cy="101.0" r="0.48"/><circle cx="145.1" cy="102.1" r="0.48"/><circle cx="155.7" cy="102.5" r="0.48"/><circle cx="154.9" cy="107.5" r="0.48"/><circle cx="149.7" cy="106.7" r="0.48"/><circle cx="147.0" cy="112.0" r="0.48"/><circle cx="151.2" cy="105.5" r="0.48"/><circle cx="147.9" cy="106.7" r="0.48"/><circle cx="143.2" cy="104.2" r="0.48"/><circle cx="145.4" cy="108.6" r="0.48"/><circle cx="150.8" cy="99.0" r="0.48"/><circle cx="147.5" cy="110.3" r="0.48"/><circle cx="143.4" cy="101.1" r="0.48"/><circle cx="153.4" cy="105.0" r="0.48"/><circle cx="146.5" cy="100.3" r="0.48"/><circle cx="149.4" cy="102.8" r="0.48"/><circle cx="149.7" cy="107.8" r="0.48"/><circle cx="152.1" cy="104.0" r="0.48"/><circle cx="145.8" cy="105.8" r="0.48"/><circle cx="148.0" cy="106.5" r="0.48"/><circle cx="145.8" cy="104.4" r="0.48"/><circle cx="145.6" cy="102.8" r="0.48"/><circle cx="149.3" cy="110.8" r="0.48"/><circle cx="145.8" cy="108.5" r="0.48"/><circle cx="150.4" cy="106.2" r="0.48"/><circle cx="151.9" cy="102.9" r="0.48"/><circle cx="151.5" cy="107.1" r="0.48"/><circle cx="140.6" cy="106.4" r="0.48"/><circle cx="150.7" cy="112.4" r="0.48"/><circle cx="143.4" cy="106.1" r="0.48"/><circle cx="150.2" cy="101.1" r="0.48"/><circle cx="154.0" cy="107.6" r="0.48"/><circle cx="145.1" cy="100.6" r="0.48"/><circle cx="147.2" cy="112.9" r="0.48"/><circle cx="153.7" cy="99.9" r="0.48"/><circle cx="141.7" cy="108.0" r="0.48"/><circle cx="148.0" cy="102.4" r="0.48"/><circle cx="151.7" cy="106.1" r="0.48"/><circle cx="150.1" cy="107.0" r="0.48"/><circle cx="144.2" cy="110.7" r="0.48"/><circle cx="146.4" cy="110.7" r="0.48"/><circle cx="152.1" cy="105.8" r="0.48"/><circle cx="149.3" cy="105.4" r="0.48"/><circle cx="141.5" cy="104.4" r="0.48"/><circle cx="150.3" cy="99.3" r="0.48"/><circle cx="142.8" cy="109.6" r="0.48"/><circle cx="151.7" cy="99.7" r="0.48"/></g>
<ellipse cx="174.4" cy="104.8" rx="9.7" ry="9.7" fill="#fff" opacity="0.08" filter="url(#b2)"/>
<ellipse cx="174.4" cy="104.8" rx="8.299999999999999" ry="8.299999999999999" fill="#666666" filter="url(#b1s)"/>
<g fill="#cacaca" filter="url(#b03)"><circle cx="179.0" cy="104.4" r="0.5"/><circle cx="179.9" cy="103.0" r="0.5"/><circle cx="173.0" cy="99.8" r="0.5"/><circle cx="178.0" cy="102.5" r="0.5"/><circle cx="169.9" cy="102.4" r="0.5"/><circle cx="170.1" cy="108.4" r="0.5"/><circle cx="170.5" cy="98.9" r="0.5"/><circle cx="170.1" cy="109.7" r="0.5"/><circle cx="171.2" cy="109.0" r="0.5"/><circle cx="178.9" cy="101.7" r="0.5"/><circle cx="179.0" cy="107.9" r="0.5"/><circle cx="174.1" cy="99.7" r="0.5"/><circle cx="174.1" cy="98.6" r="0.5"/><circle cx="172.3" cy="100.3" r="0.5"/><circle cx="178.2" cy="107.8" r="0.5"/><circle cx="170.9" cy="109.5" r="0.5"/><circle cx="180.5" cy="105.2" r="0.5"/><circle cx="169.9" cy="107.9" r="0.5"/><circle cx="167.2" cy="103.1" r="0.5"/><circle cx="176.4" cy="111.7" r="0.5"/><circle cx="171.4" cy="111.0" r="0.5"/><circle cx="180.2" cy="109.5" r="0.5"/><circle cx="167.7" cy="108.0" r="0.5"/><circle cx="175.5" cy="110.5" r="0.5"/><circle cx="173.1" cy="100.1" r="0.5"/><circle cx="173.4" cy="111.4" r="0.5"/><circle cx="179.6" cy="103.0" r="0.5"/><circle cx="176.7" cy="109.9" r="0.5"/><circle cx="179.2" cy="104.5" r="0.5"/><circle cx="170.6" cy="100.5" r="0.5"/><circle cx="171.3" cy="100.8" r="0.5"/><circle cx="169.0" cy="100.0" r="0.5"/><circle cx="178.4" cy="99.7" r="0.5"/><circle cx="168.1" cy="104.6" r="0.5"/><circle cx="179.8" cy="109.5" r="0.5"/><circle cx="172.2" cy="99.3" r="0.5"/><circle cx="171.5" cy="99.8" r="0.5"/><circle cx="170.6" cy="108.2" r="0.5"/><circle cx="169.3" cy="101.1" r="0.5"/><circle cx="170.1" cy="104.4" r="0.5"/><circle cx="170.3" cy="100.6" r="0.5"/><circle cx="169.1" cy="101.3" r="0.5"/><circle cx="178.8" cy="102.8" r="0.5"/><circle cx="167.0" cy="106.3" r="0.5"/><circle cx="174.0" cy="99.4" r="0.5"/><circle cx="173.8" cy="97.3" r="0.5"/><circle cx="168.5" cy="108.9" r="0.5"/><circle cx="179.7" cy="110.2" r="0.5"/><circle cx="169.3" cy="105.1" r="0.5"/><circle cx="177.9" cy="99.3" r="0.5"/><circle cx="180.9" cy="102.1" r="0.5"/><circle cx="176.2" cy="98.9" r="0.5"/><circle cx="178.8" cy="104.6" r="0.5"/><circle cx="179.0" cy="99.9" r="0.5"/><circle cx="174.4" cy="111.8" r="0.5"/><circle cx="168.5" cy="106.6" r="0.5"/><circle cx="177.7" cy="101.1" r="0.5"/><circle cx="173.2" cy="111.2" r="0.5"/></g>
<g fill="#c4c4c4" filter="url(#b05)"><circle cx="197.7" cy="100.2" r="0.8"/><circle cx="204.1" cy="102.6" r="0.8"/><circle cx="196.8" cy="105.2" r="0.8"/><circle cx="199.5" cy="109.4" r="0.8"/><circle cx="210.5" cy="107.5" r="0.8"/><circle cx="210.5" cy="109.5" r="0.8"/><circle cx="80.2" cy="116.7" r="0.8"/></g>
<ellipse cx="241.6" cy="71.1" rx="10.1" ry="10.1" fill="#fff" opacity="0.24" filter="url(#b2)"/>
<ellipse cx="241.6" cy="71.1" rx="7.7" ry="7.7" fill="#c8c8c8" filter="url(#b1s)"/>
<circle cx="237.4" cy="66.3" r="0.9" fill="#d8d8d8" filter="url(#b05)"/>
<circle cx="246.3" cy="66.8" r="0.9" fill="#d8d8d8" filter="url(#b05)"/>
<ellipse cx="269.8" cy="70" rx="9.7" ry="9.7" fill="#fff" opacity="0.24" filter="url(#b2)"/>
<ellipse cx="269.8" cy="70" rx="7.199999999999999" ry="7.199999999999999" fill="#c0c0c0" filter="url(#b1s)"/>
<g fill="#dadada" filter="url(#b03)"><circle cx="274.2" cy="72.2" r="0.45"/><circle cx="270.9" cy="65.5" r="0.45"/><circle cx="270.1" cy="75.8" r="0.45"/><circle cx="273.3" cy="65.5" r="0.45"/><circle cx="263.9" cy="68.1" r="0.45"/><circle cx="270.5" cy="67.6" r="0.45"/><circle cx="268.4" cy="71.5" r="0.45"/><circle cx="273.5" cy="70.9" r="0.45"/><circle cx="273.7" cy="65.5" r="0.45"/><circle cx="271.9" cy="71.9" r="0.45"/><circle cx="265.2" cy="73.9" r="0.45"/><circle cx="265.2" cy="65.8" r="0.45"/><circle cx="275.6" cy="72.8" r="0.45"/><circle cx="271.2" cy="75.0" r="0.45"/><circle cx="273.8" cy="66.1" r="0.45"/><circle cx="271.5" cy="75.0" r="0.45"/><circle cx="269.1" cy="70.3" r="0.45"/><circle cx="267.8" cy="73.1" r="0.45"/><circle cx="267.4" cy="67.5" r="0.45"/><circle cx="265.5" cy="66.7" r="0.45"/><circle cx="270.8" cy="72.1" r="0.45"/><circle cx="268.3" cy="65.8" r="0.45"/><circle cx="271.3" cy="71.6" r="0.45"/><circle cx="274.6" cy="68.2" r="0.45"/><circle cx="268.0" cy="72.3" r="0.45"/><circle cx="275.2" cy="69.8" r="0.45"/><circle cx="269.5" cy="66.1" r="0.45"/><circle cx="268.3" cy="73.9" r="0.45"/><circle cx="272.9" cy="74.1" r="0.45"/><circle cx="264.5" cy="72.7" r="0.45"/><circle cx="266.1" cy="72.4" r="0.45"/><circle cx="263.5" cy="69.7" r="0.45"/><circle cx="266.7" cy="74.5" r="0.45"/><circle cx="270.3" cy="74.9" r="0.45"/><circle cx="268.5" cy="76.0" r="0.45"/><circle cx="268.4" cy="75.9" r="0.45"/><circle cx="267.8" cy="66.1" r="0.45"/><circle cx="273.5" cy="68.4" r="0.45"/><circle cx="269.6" cy="64.9" r="0.45"/><circle cx="268.2" cy="70.5" r="0.45"/><circle cx="266.8" cy="71.7" r="0.45"/><circle cx="263.9" cy="72.3" r="0.45"/><circle cx="268.3" cy="75.2" r="0.45"/><circle cx="268.3" cy="67.1" r="0.45"/><circle cx="267.8" cy="71.3" r="0.45"/><circle cx="272.4" cy="68.0" r="0.45"/><circle cx="266.4" cy="71.8" r="0.45"/><circle cx="272.4" cy="64.6" r="0.45"/></g>
<ellipse cx="299.7" cy="71" rx="10.3" ry="10.2" fill="#fff" opacity="0.22" filter="url(#b2)"/>
<ellipse cx="299.7" cy="71" rx="7.8" ry="7.699999999999999" fill="#b0b0b0" filter="url(#b1s)"/>
<g fill="#e0e0e0" filter="url(#b03)"><circle cx="295.3" cy="68.2" r="0.48"/><circle cx="305.1" cy="74.9" r="0.48"/><circle cx="303.3" cy="73.2" r="0.48"/><circle cx="295.5" cy="75.2" r="0.48"/><circle cx="297.7" cy="67.4" r="0.48"/><circle cx="305.2" cy="66.9" r="0.48"/><circle cx="305.3" cy="71.8" r="0.48"/><circle cx="295.5" cy="71.8" r="0.48"/><circle cx="295.8" cy="71.9" r="0.48"/><circle cx="297.1" cy="66.2" r="0.48"/><circle cx="306.6" cy="69.7" r="0.48"/><circle cx="304.1" cy="70.8" r="0.48"/><circle cx="302.4" cy="66.0" r="0.48"/><circle cx="297.6" cy="64.3" r="0.48"/><circle cx="304.1" cy="72.9" r="0.48"/><circle cx="295.0" cy="74.3" r="0.48"/><circle cx="301.1" cy="77.8" r="0.48"/><circle cx="300.8" cy="75.1" r="0.48"/><circle cx="302.5" cy="74.4" r="0.48"/><circle cx="299.6" cy="69.0" r="0.48"/><circle cx="302.5" cy="75.9" r="0.48"/><circle cx="295.3" cy="66.8" r="0.48"/><circle cx="299.6" cy="77.3" r="0.48"/><circle cx="299.0" cy="64.9" r="0.48"/><circle cx="303.2" cy="74.3" r="0.48"/><circle cx="306.2" cy="71.6" r="0.48"/><circle cx="306.0" cy="68.7" r="0.48"/><circle cx="303.8" cy="71.6" r="0.48"/><circle cx="294.7" cy="69.9" r="0.48"/><circle cx="304.5" cy="75.0" r="0.48"/><circle cx="298.1" cy="75.7" r="0.48"/><circle cx="303.5" cy="74.7" r="0.48"/><circle cx="301.1" cy="72.5" r="0.48"/><circle cx="295.9" cy="70.7" r="0.48"/><circle cx="300.3" cy="67.6" r="0.48"/><circle cx="298.3" cy="71.8" r="0.48"/><circle cx="300.7" cy="75.6" r="0.48"/><circle cx="295.2" cy="69.3" r="0.48"/><circle cx="301.1" cy="69.2" r="0.48"/><circle cx="301.3" cy="68.8" r="0.48"/><circle cx="304.7" cy="70.1" r="0.48"/><circle cx="295.1" cy="74.0" r="0.48"/><circle cx="304.3" cy="65.8" r="0.48"/><circle cx="299.1" cy="71.4" r="0.48"/><circle cx="303.3" cy="76.2" r="0.48"/><circle cx="299.1" cy="65.1" r="0.48"/><circle cx="302.6" cy="75.2" r="0.48"/><circle cx="302.0" cy="71.4" r="0.48"/><circle cx="297.5" cy="77.5" r="0.48"/><circle cx="295.6" cy="66.0" r="0.48"/><circle cx="304.1" cy="72.3" r="0.48"/><circle cx="302.9" cy="72.7" r="0.48"/><circle cx="304.9" cy="75.3" r="0.48"/><circle cx="297.3" cy="75.3" r="0.48"/><circle cx="295.9" cy="65.6" r="0.48"/><circle cx="304.7" cy="69.3" r="0.48"/><circle cx="293.0" cy="71.0" r="0.48"/><circle cx="296.6" cy="73.4" r="0.48"/><circle cx="299.5" cy="67.5" r="0.48"/><circle cx="296.6" cy="74.4" r="0.48"/><circle cx="295.5" cy="71.6" r="0.48"/><circle cx="295.4" cy="73.0" r="0.48"/><circle cx="305.9" cy="73.0" r="0.48"/><circle cx="304.5" cy="72.9" r="0.48"/><circle cx="295.4" cy="69.7" r="0.48"/><circle cx="300.1" cy="73.2" r="0.48"/><circle cx="296.9" cy="73.8" r="0.48"/><circle cx="296.3" cy="71.3" r="0.48"/><circle cx="299.7" cy="66.1" r="0.48"/><circle cx="304.2" cy="71.3" r="0.48"/><circle cx="300.3" cy="70.9" r="0.48"/><circle cx="293.9" cy="67.2" r="0.48"/><circle cx="296.1" cy="75.0" r="0.48"/><circle cx="297.1" cy="73.8" r="0.48"/><circle cx="295.5" cy="67.6" r="0.48"/><circle cx="297.7" cy="75.5" r="0.48"/><circle cx="293.6" cy="70.4" r="0.48"/><circle cx="301.7" cy="71.7" r="0.48"/><circle cx="299.7" cy="74.6" r="0.48"/><circle cx="301.0" cy="66.6" r="0.48"/><circle cx="302.6" cy="67.6" r="0.48"/><circle cx="298.4" cy="76.6" r="0.48"/><circle cx="305.7" cy="74.5" r="0.48"/><circle cx="301.7" cy="67.5" r="0.48"/><circle cx="297.1" cy="76.8" r="0.48"/><circle cx="301.1" cy="65.6" r="0.48"/><circle cx="305.5" cy="73.1" r="0.48"/><circle cx="305.0" cy="72.6" r="0.48"/><circle cx="293.2" cy="68.8" r="0.48"/><circle cx="299.0" cy="70.2" r="0.48"/></g>
<ellipse cx="328.1" cy="70.6" rx="9.0" ry="9.0" fill="#fff" opacity="0.08" filter="url(#b2)"/>
<ellipse cx="328.1" cy="70.6" rx="7.6" ry="7.6" fill="#7c7c7c" filter="url(#b1s)"/>
<g fill="#cacaca" filter="url(#b03)"><circle cx="333.6" cy="68.2" r="0.5"/><circle cx="327.6" cy="70.4" r="0.5"/><circle cx="327.7" cy="66.2" r="0.5"/><circle cx="325.2" cy="64.4" r="0.5"/><circle cx="329.7" cy="69.7" r="0.5"/><circle cx="329.0" cy="66.1" r="0.5"/><circle cx="328.1" cy="66.4" r="0.5"/><circle cx="323.8" cy="72.1" r="0.5"/><circle cx="331.0" cy="73.2" r="0.5"/><circle cx="327.9" cy="68.8" r="0.5"/><circle cx="332.8" cy="74.8" r="0.5"/><circle cx="325.5" cy="66.2" r="0.5"/><circle cx="329.9" cy="72.2" r="0.5"/><circle cx="325.6" cy="76.9" r="0.5"/><circle cx="321.9" cy="68.2" r="0.5"/><circle cx="329.2" cy="74.9" r="0.5"/><circle cx="321.9" cy="69.2" r="0.5"/><circle cx="332.7" cy="75.1" r="0.5"/><circle cx="326.9" cy="70.8" r="0.5"/><circle cx="324.2" cy="72.4" r="0.5"/><circle cx="325.1" cy="64.7" r="0.5"/><circle cx="322.4" cy="70.8" r="0.5"/><circle cx="323.5" cy="74.5" r="0.5"/><circle cx="332.8" cy="74.3" r="0.5"/><circle cx="330.7" cy="75.2" r="0.5"/><circle cx="329.3" cy="74.5" r="0.5"/><circle cx="330.2" cy="74.1" r="0.5"/><circle cx="323.9" cy="67.9" r="0.5"/><circle cx="324.1" cy="74.0" r="0.5"/><circle cx="330.4" cy="67.1" r="0.5"/><circle cx="324.0" cy="68.2" r="0.5"/><circle cx="332.0" cy="70.1" r="0.5"/><circle cx="327.0" cy="67.4" r="0.5"/><circle cx="327.7" cy="76.5" r="0.5"/><circle cx="325.0" cy="69.0" r="0.5"/><circle cx="333.9" cy="73.1" r="0.5"/><circle cx="323.9" cy="74.7" r="0.5"/><circle cx="323.2" cy="72.8" r="0.5"/><circle cx="321.8" cy="68.1" r="0.5"/><circle cx="332.0" cy="68.1" r="0.5"/><circle cx="324.8" cy="70.9" r="0.5"/><circle cx="328.1" cy="68.4" r="0.5"/><circle cx="325.9" cy="76.6" r="0.5"/><circle cx="333.7" cy="71.9" r="0.5"/><circle cx="323.4" cy="68.5" r="0.5"/><circle cx="326.8" cy="72.9" r="0.5"/><circle cx="333.8" cy="68.8" r="0.5"/><circle cx="328.8" cy="68.6" r="0.5"/><circle cx="328.8" cy="67.4" r="0.5"/><circle cx="329.7" cy="75.4" r="0.5"/><circle cx="326.3" cy="69.1" r="0.5"/><circle cx="328.6" cy="65.4" r="0.5"/><circle cx="333.4" cy="66.7" r="0.5"/><circle cx="326.5" cy="66.7" r="0.5"/><circle cx="333.7" cy="68.8" r="0.5"/><circle cx="326.5" cy="76.8" r="0.5"/><circle cx="327.6" cy="67.1" r="0.5"/><circle cx="328.1" cy="71.6" r="0.5"/><circle cx="324.7" cy="69.8" r="0.5"/><circle cx="327.2" cy="73.9" r="0.5"/><circle cx="331.4" cy="74.1" r="0.5"/><circle cx="327.6" cy="74.2" r="0.5"/><circle cx="327.3" cy="75.5" r="0.5"/><circle cx="330.0" cy="68.6" r="0.5"/><circle cx="332.2" cy="65.7" r="0.5"/><circle cx="324.2" cy="67.4" r="0.5"/><circle cx="327.6" cy="65.6" r="0.5"/><circle cx="324.6" cy="65.0" r="0.5"/><circle cx="328.7" cy="67.1" r="0.5"/><circle cx="334.4" cy="72.8" r="0.5"/><circle cx="324.1" cy="75.3" r="0.5"/><circle cx="328.6" cy="75.2" r="0.5"/><circle cx="324.1" cy="74.9" r="0.5"/><circle cx="332.7" cy="68.9" r="0.5"/><circle cx="324.4" cy="69.0" r="0.5"/><circle cx="328.9" cy="77.3" r="0.5"/><circle cx="333.2" cy="74.9" r="0.5"/><circle cx="327.1" cy="69.1" r="0.5"/><circle cx="329.9" cy="69.3" r="0.5"/><circle cx="325.9" cy="69.6" r="0.5"/><circle cx="331.9" cy="70.3" r="0.5"/><circle cx="329.3" cy="69.4" r="0.5"/><circle cx="327.2" cy="69.0" r="0.5"/><circle cx="333.2" cy="71.6" r="0.5"/><circle cx="333.8" cy="70.0" r="0.5"/><circle cx="331.9" cy="65.8" r="0.5"/><circle cx="326.2" cy="70.3" r="0.5"/><circle cx="325.2" cy="70.1" r="0.5"/><circle cx="324.1" cy="69.9" r="0.5"/><circle cx="325.0" cy="70.6" r="0.5"/><circle cx="326.9" cy="66.3" r="0.5"/></g>
<g fill="#c4c4c4" filter="url(#b05)"><circle cx="351.3" cy="69.1" r="0.8"/><circle cx="360.6" cy="66.3" r="0.8"/><circle cx="363" cy="71" r="0.8"/><circle cx="355" cy="77.5" r="0.8"/><circle cx="358.7" cy="79.3" r="0.8"/><circle cx="361.5" cy="76.5" r="0.8"/></g>
<ellipse cx="241.6" cy="99.4" rx="10.1" ry="10.1" fill="#fff" opacity="0.24" filter="url(#b2)"/>
<ellipse cx="241.6" cy="99.4" rx="7.7" ry="7.7" fill="#c6c6c6" filter="url(#b1s)"/>
<ellipse cx="269.9" cy="97.8" rx="9.7" ry="9.5" fill="#fff" opacity="0.24" filter="url(#b2)"/>
<ellipse cx="269.9" cy="97.8" rx="7.199999999999999" ry="7.0" fill="#bebebe" filter="url(#b1s)"/>
<g fill="#dadada" filter="url(#b03)"><circle cx="268.1" cy="98.0" r="0.45"/><circle cx="265.0" cy="98.2" r="0.45"/><circle cx="274.7" cy="97.0" r="0.45"/><circle cx="272.3" cy="100.4" r="0.45"/><circle cx="267.1" cy="102.4" r="0.45"/><circle cx="275.9" cy="95.4" r="0.45"/><circle cx="275.9" cy="95.9" r="0.45"/><circle cx="273.9" cy="93.0" r="0.45"/><circle cx="274.4" cy="98.4" r="0.45"/><circle cx="265.3" cy="95.0" r="0.45"/><circle cx="266.0" cy="94.6" r="0.45"/><circle cx="271.7" cy="97.0" r="0.45"/><circle cx="263.5" cy="97.1" r="0.45"/><circle cx="272.0" cy="98.2" r="0.45"/><circle cx="274.2" cy="93.2" r="0.45"/><circle cx="271.1" cy="98.0" r="0.45"/><circle cx="272.5" cy="93.2" r="0.45"/><circle cx="265.0" cy="97.2" r="0.45"/><circle cx="270.2" cy="92.1" r="0.45"/><circle cx="271.6" cy="97.8" r="0.45"/><circle cx="271.7" cy="91.8" r="0.45"/><circle cx="272.0" cy="94.3" r="0.45"/><circle cx="267.9" cy="101.0" r="0.45"/><circle cx="275.6" cy="98.3" r="0.45"/><circle cx="269.5" cy="102.6" r="0.45"/><circle cx="266.2" cy="97.2" r="0.45"/><circle cx="267.9" cy="94.0" r="0.45"/><circle cx="270.5" cy="103.7" r="0.45"/><circle cx="271.0" cy="100.0" r="0.45"/><circle cx="269.8" cy="102.2" r="0.45"/><circle cx="270.7" cy="94.2" r="0.45"/><circle cx="270.3" cy="102.9" r="0.45"/><circle cx="269.6" cy="102.4" r="0.45"/><circle cx="269.7" cy="103.7" r="0.45"/><circle cx="271.2" cy="100.6" r="0.45"/><circle cx="268.7" cy="101.3" r="0.45"/><circle cx="269.1" cy="92.6" r="0.45"/><circle cx="271.1" cy="93.3" r="0.45"/><circle cx="274.9" cy="100.4" r="0.45"/><circle cx="270.0" cy="100.8" r="0.45"/><circle cx="264.3" cy="101.0" r="0.45"/><circle cx="267.2" cy="100.6" r="0.45"/><circle cx="275.4" cy="94.4" r="0.45"/><circle cx="268.1" cy="99.3" r="0.45"/><circle cx="271.3" cy="92.4" r="0.45"/><circle cx="266.8" cy="102.6" r="0.45"/><circle cx="267.4" cy="100.1" r="0.45"/><circle cx="265.2" cy="94.8" r="0.45"/></g>
<ellipse cx="299.4" cy="101" rx="10.3" ry="10.1" fill="#fff" opacity="0.22" filter="url(#b2)"/>
<ellipse cx="299.4" cy="101" rx="7.8" ry="7.6" fill="#aeaeae" filter="url(#b1s)"/>
<g fill="#e0e0e0" filter="url(#b03)"><circle cx="293.1" cy="101.9" r="0.48"/><circle cx="304.4" cy="101.4" r="0.48"/><circle cx="298.1" cy="102.2" r="0.48"/><circle cx="301.7" cy="99.7" r="0.48"/><circle cx="301.2" cy="107.2" r="0.48"/><circle cx="306.0" cy="99.4" r="0.48"/><circle cx="295.7" cy="106.6" r="0.48"/><circle cx="303.2" cy="105.5" r="0.48"/><circle cx="302.3" cy="100.0" r="0.48"/><circle cx="303.2" cy="105.3" r="0.48"/><circle cx="303.9" cy="97.0" r="0.48"/><circle cx="303.9" cy="99.5" r="0.48"/><circle cx="297.7" cy="102.7" r="0.48"/><circle cx="298.4" cy="107.6" r="0.48"/><circle cx="302.1" cy="102.3" r="0.48"/><circle cx="298.5" cy="102.3" r="0.48"/><circle cx="298.3" cy="103.8" r="0.48"/><circle cx="303.1" cy="104.5" r="0.48"/><circle cx="294.2" cy="99.7" r="0.48"/><circle cx="299.8" cy="96.0" r="0.48"/><circle cx="301.3" cy="100.4" r="0.48"/><circle cx="299.7" cy="102.9" r="0.48"/><circle cx="297.1" cy="106.6" r="0.48"/><circle cx="303.9" cy="98.8" r="0.48"/><circle cx="301.6" cy="104.4" r="0.48"/><circle cx="295.9" cy="99.4" r="0.48"/><circle cx="301.3" cy="94.4" r="0.48"/><circle cx="294.1" cy="102.3" r="0.48"/><circle cx="302.1" cy="97.1" r="0.48"/><circle cx="301.9" cy="107.2" r="0.48"/><circle cx="300.5" cy="100.9" r="0.48"/><circle cx="299.8" cy="96.6" r="0.48"/><circle cx="302.1" cy="101.9" r="0.48"/><circle cx="302.2" cy="106.2" r="0.48"/><circle cx="299.6" cy="101.9" r="0.48"/><circle cx="300.6" cy="107.1" r="0.48"/><circle cx="293.7" cy="101.0" r="0.48"/><circle cx="296.4" cy="101.6" r="0.48"/><circle cx="303.3" cy="101.4" r="0.48"/><circle cx="302.9" cy="101.9" r="0.48"/><circle cx="296.2" cy="98.2" r="0.48"/><circle cx="293.9" cy="101.9" r="0.48"/><circle cx="297.7" cy="104.8" r="0.48"/><circle cx="303.4" cy="97.5" r="0.48"/><circle cx="294.9" cy="103.5" r="0.48"/><circle cx="295.4" cy="102.0" r="0.48"/><circle cx="302.3" cy="99.3" r="0.48"/><circle cx="305.4" cy="98.5" r="0.48"/><circle cx="301.5" cy="99.1" r="0.48"/><circle cx="292.4" cy="100.6" r="0.48"/><circle cx="298.7" cy="103.8" r="0.48"/><circle cx="298.8" cy="97.7" r="0.48"/><circle cx="297.0" cy="99.6" r="0.48"/><circle cx="303.0" cy="99.8" r="0.48"/><circle cx="304.2" cy="104.3" r="0.48"/><circle cx="296.4" cy="105.2" r="0.48"/><circle cx="292.6" cy="101.1" r="0.48"/><circle cx="295.1" cy="100.6" r="0.48"/><circle cx="304.4" cy="101.1" r="0.48"/><circle cx="298.8" cy="106.2" r="0.48"/><circle cx="296.1" cy="97.5" r="0.48"/><circle cx="303.6" cy="103.6" r="0.48"/><circle cx="293.8" cy="101.6" r="0.48"/><circle cx="303.1" cy="100.3" r="0.48"/><circle cx="297.5" cy="101.7" r="0.48"/><circle cx="300.5" cy="97.8" r="0.48"/><circle cx="302.4" cy="95.6" r="0.48"/><circle cx="299.2" cy="107.6" r="0.48"/><circle cx="294.8" cy="100.9" r="0.48"/><circle cx="292.9" cy="98.7" r="0.48"/><circle cx="294.5" cy="101.3" r="0.48"/><circle cx="297.8" cy="107.1" r="0.48"/><circle cx="295.3" cy="100.9" r="0.48"/><circle cx="300.5" cy="104.0" r="0.48"/><circle cx="302.6" cy="95.7" r="0.48"/><circle cx="306.1" cy="100.1" r="0.48"/><circle cx="296.9" cy="95.3" r="0.48"/><circle cx="297.9" cy="95.0" r="0.48"/><circle cx="300.3" cy="98.3" r="0.48"/><circle cx="300.9" cy="97.5" r="0.48"/><circle cx="299.7" cy="107.6" r="0.48"/><circle cx="304.4" cy="101.7" r="0.48"/><circle cx="295.9" cy="106.1" r="0.48"/><circle cx="294.2" cy="96.8" r="0.48"/><circle cx="304.6" cy="98.7" r="0.48"/><circle cx="304.7" cy="103.2" r="0.48"/><circle cx="304.8" cy="105.3" r="0.48"/><circle cx="302.1" cy="98.2" r="0.48"/><circle cx="301.7" cy="106.3" r="0.48"/><circle cx="299.8" cy="94.2" r="0.48"/></g>
<ellipse cx="328.1" cy="100.3" rx="8.9" ry="8.8" fill="#fff" opacity="0.08" filter="url(#b2)"/>
<ellipse cx="328.1" cy="100.3" rx="7.5" ry="7.3999999999999995" fill="#777777" filter="url(#b1s)"/>
<g fill="#cacaca" filter="url(#b03)"><circle cx="325.4" cy="97.7" r="0.5"/><circle cx="327.6" cy="97.0" r="0.5"/><circle cx="332.2" cy="95.8" r="0.5"/><circle cx="329.5" cy="94.1" r="0.5"/><circle cx="322.1" cy="97.5" r="0.5"/><circle cx="324.7" cy="96.3" r="0.5"/><circle cx="324.6" cy="103.4" r="0.5"/><circle cx="332.0" cy="100.9" r="0.5"/><circle cx="329.3" cy="96.3" r="0.5"/><circle cx="324.6" cy="95.3" r="0.5"/><circle cx="326.3" cy="95.4" r="0.5"/><circle cx="326.3" cy="104.3" r="0.5"/><circle cx="330.3" cy="105.6" r="0.5"/><circle cx="325.5" cy="94.3" r="0.5"/><circle cx="324.9" cy="106.0" r="0.5"/><circle cx="331.9" cy="98.0" r="0.5"/><circle cx="333.5" cy="98.6" r="0.5"/><circle cx="334.1" cy="98.9" r="0.5"/><circle cx="325.9" cy="104.1" r="0.5"/><circle cx="322.9" cy="99.6" r="0.5"/><circle cx="334.4" cy="101.7" r="0.5"/><circle cx="323.0" cy="99.2" r="0.5"/><circle cx="328.0" cy="96.0" r="0.5"/><circle cx="329.8" cy="105.5" r="0.5"/><circle cx="328.4" cy="104.9" r="0.5"/><circle cx="331.1" cy="101.7" r="0.5"/><circle cx="324.8" cy="104.5" r="0.5"/><circle cx="333.6" cy="98.5" r="0.5"/><circle cx="323.9" cy="102.8" r="0.5"/><circle cx="328.6" cy="105.4" r="0.5"/><circle cx="331.7" cy="99.4" r="0.5"/><circle cx="322.7" cy="102.7" r="0.5"/><circle cx="328.5" cy="94.9" r="0.5"/><circle cx="323.9" cy="95.2" r="0.5"/><circle cx="331.6" cy="97.8" r="0.5"/><circle cx="321.5" cy="98.6" r="0.5"/><circle cx="324.1" cy="99.6" r="0.5"/><circle cx="328.4" cy="97.0" r="0.5"/><circle cx="331.3" cy="104.7" r="0.5"/><circle cx="327.3" cy="106.2" r="0.5"/><circle cx="327.4" cy="95.8" r="0.5"/><circle cx="328.7" cy="94.6" r="0.5"/><circle cx="326.7" cy="95.4" r="0.5"/><circle cx="324.8" cy="101.8" r="0.5"/><circle cx="321.5" cy="101.3" r="0.5"/><circle cx="330.7" cy="98.1" r="0.5"/><circle cx="332.1" cy="102.2" r="0.5"/><circle cx="326.4" cy="95.6" r="0.5"/><circle cx="331.6" cy="103.9" r="0.5"/><circle cx="322.7" cy="97.6" r="0.5"/><circle cx="323.4" cy="103.6" r="0.5"/><circle cx="325.7" cy="95.2" r="0.5"/><circle cx="333.8" cy="102.0" r="0.5"/><circle cx="330.4" cy="102.7" r="0.5"/><circle cx="325.0" cy="100.8" r="0.5"/><circle cx="332.5" cy="102.4" r="0.5"/><circle cx="324.5" cy="101.0" r="0.5"/><circle cx="334.2" cy="98.5" r="0.5"/></g>
<g fill="#c4c4c4" filter="url(#b05)"><circle cx="352.6" cy="96.9" r="0.8"/><circle cx="359.6" cy="97.9" r="0.8"/><circle cx="354" cy="101.6" r="0.8"/><circle cx="360.6" cy="100.6" r="0.8"/><circle cx="361.5" cy="107.1" r="0.8"/></g>
<text transform="translate(70.30,49.50) scale(1.0,1.08)" font-size="13" text-anchor="end" font-weight="normal" font-style="normal" fill="#000">WT</text>
<text transform="translate(70.30,81.70) scale(1.0,1.08)" font-size="13" text-anchor="end" font-weight="normal" font-style="normal" fill="#000"><tspan font-style="italic">pyk</tspan>(A218V)</text>
<text transform="translate(70.30,112.60) scale(1.0,1.08)" font-size="13" text-anchor="end" font-weight="normal" font-style="normal" fill="#000"><tspan font-style="italic">pyk</tspan>(V404E)</text>
<text transform="translate(147.00,136.50) scale(1.0,1.08)" font-size="13" text-anchor="middle" font-weight="normal" font-style="normal" fill="#000">- Fosfomycin</text>
<text transform="translate(298.60,136.50) scale(1.0,1.08)" font-size="13" text-anchor="middle" font-weight="normal" font-style="normal" fill="#000">+ Fosfomycin</text>
<path d="M427.3 26.8 V182.8 H661.8" stroke="#000" stroke-width="1.7" fill="none" stroke-linecap="square"/>
<path d="M423.5 159.32H427.3 M423.5 145.58H427.3 M423.5 135.84H427.3 M423.5 128.28H427.3 M423.5 122.10H427.3 M423.5 116.88H427.3 M423.5 112.36H427.3 M423.5 108.37H427.3 M423.5 81.32H427.3 M423.5 67.58H427.3 M423.5 57.84H427.3 M423.5 50.28H427.3 M423.5 44.10H427.3 M423.5 38.88H427.3 M423.5 34.36H427.3 M423.5 30.37H427.3 M421.1 182.80H427.3 M421.1 104.80H427.3 M421.1 26.80H427.3 M427.30 182.8V189.10000000000002 M456.55 182.8V186.4 M485.80 182.8V189.10000000000002 M515.05 182.8V186.4 M544.30 182.8V189.10000000000002 M573.55 182.8V186.4 M602.80 182.8V189.10000000000002 M632.05 182.8V186.4 M661.30 182.8V189.10000000000002" stroke="#000" stroke-width="1.5" fill="none"/>
<text transform="translate(417.40,30.00) scale(1.0,1.0)" font-size="9.4" text-anchor="end" font-weight="bold" font-style="normal" fill="#000">1</text>
<text transform="translate(417.40,108.00) scale(1.0,1.0)" font-size="9.4" text-anchor="end" font-weight="bold" font-style="normal" fill="#000">0.1</text>
<text transform="translate(417.40,184.40) scale(1.0,1.0)" font-size="9.4" text-anchor="end" font-weight="bold" font-style="normal" fill="#000">0.01</text>
<text transform="translate(427.30,199.60) scale(1.0,1.0)" font-size="9.4" text-anchor="middle" font-weight="bold" font-style="normal" fill="#000">0</text>
<text transform="translate(485.80,199.60) scale(1.0,1.0)" font-size="9.4" text-anchor="middle" font-weight="bold" font-style="normal" fill="#000">2</text>
<text transform="translate(544.30,199.60) scale(1.0,1.0)" font-size="9.4" text-anchor="middle" font-weight="bold" font-style="normal" fill="#000">4</text>
<text transform="translate(602.80,199.60) scale(1.0,1.0)" font-size="9.4" text-anchor="middle" font-weight="bold" font-style="normal" fill="#000">6</text>
<text transform="translate(661.30,199.60) scale(1.0,1.0)" font-size="9.4" text-anchor="middle" font-weight="bold" font-style="normal" fill="#000">8</text>
<text transform="translate(547.60,212.60) scale(1.0,1.08)" font-size="13" text-anchor="middle" font-weight="normal" font-style="normal" fill="#000">Time (hr)</text>
<text transform="translate(397.70,125.00) rotate(-90) scale(1.0,1.08)" font-size="13" text-anchor="start" font-weight="normal" font-style="normal" fill="#000">OD<tspan font-size="7.6" dy="4">600</tspan></text>
<path d="M570.25 97.5H576.85M573.55 97.5V106M570.25 106H576.85" stroke="#0e54ff" stroke-width="1" fill="none" opacity="0.8"/>
<path d="M541.00 111.5H547.60M544.30 111.5V117.5M541.00 117.5H547.60" stroke="#0e54ff" stroke-width="1" fill="none" opacity="0.8"/>
<path d="M599.50 87.5H606.10M602.80 87.5V91.8M599.50 91.8H606.10" stroke="#0e54ff" stroke-width="1" fill="none" opacity="0.8"/>
<path d="M628.75 73.5H635.35M632.05 73.5V76.8M628.75 76.8H635.35" stroke="#0e54ff" stroke-width="1" fill="none" opacity="0.8"/>
<polyline points="427.30,182.80 456.55,159.10 485.80,135.90 515.05,122.20 544.30,114.70 573.55,102.00 602.80,88.90 632.05,74.80 661.30,61.90" fill="none" stroke="#0e54ff" stroke-width="1.8" stroke-linejoin="round"/>
<circle cx="427.30" cy="182.80" r="3.1" fill="#0e54ff"/>
<circle cx="456.55" cy="159.10" r="3.1" fill="#0e54ff"/>
<circle cx="485.80" cy="135.90" r="3.1" fill="#0e54ff"/>
<circle cx="515.05" cy="122.20" r="3.1" fill="#0e54ff"/>
<circle cx="544.30" cy="114.70" r="3.1" fill="#0e54ff"/>
<circle cx="573.55" cy="102.00" r="3.1" fill="#0e54ff"/>
<circle cx="602.80" cy="88.90" r="3.1" fill="#0e54ff"/>
<circle cx="632.05" cy="74.80" r="3.1" fill="#0e54ff"/>
<circle cx="661.30" cy="61.90" r="3.1" fill="#0e54ff"/>
<path d="M482.50 134H489.10M485.80 134V148.1M482.50 148.1H489.10" stroke="#fc3232" stroke-width="1" fill="none" opacity="0.7"/>
<polyline points="427.30,182.80 456.55,159.10 485.80,140.00 515.05,122.20 544.30,108.50 573.55,93.50 602.80,80.50 632.05,67.20 661.30,55.60" fill="none" stroke="#fc3232" stroke-width="1.8" stroke-linejoin="round"/>
<circle cx="427.30" cy="182.80" r="3.1" fill="#fc3232"/>
<circle cx="456.55" cy="159.10" r="3.1" fill="#fc3232"/>
<circle cx="485.80" cy="140.00" r="3.1" fill="#fc3232"/>
<circle cx="515.05" cy="122.20" r="3.1" fill="#fc3232"/>
<circle cx="544.30" cy="108.50" r="3.1" fill="#fc3232"/>
<circle cx="573.55" cy="93.50" r="3.1" fill="#fc3232"/>
<circle cx="602.80" cy="80.50" r="3.1" fill="#fc3232"/>
<circle cx="632.05" cy="67.20" r="3.1" fill="#fc3232"/>
<circle cx="661.30" cy="55.60" r="3.1" fill="#fc3232"/>
<path d="M482.50 87.6H489.10M485.80 87.6V101.3M482.50 101.3H489.10" stroke="#000" stroke-width="1" fill="none" opacity="0.75"/>
<polyline points="427.30,182.80 456.55,135.90 485.80,93.50 515.05,61.90 544.30,41.10 573.55,35.50 602.80,35.50 632.05,33.70 661.30,36.50" fill="none" stroke="#000" stroke-width="1.8" stroke-linejoin="round"/>
<circle cx="427.30" cy="182.80" r="3.1" fill="#000"/>
<circle cx="456.55" cy="135.90" r="3.1" fill="#000"/>
<circle cx="485.80" cy="93.50" r="3.1" fill="#000"/>
<circle cx="515.05" cy="61.90" r="3.1" fill="#000"/>
<circle cx="544.30" cy="41.10" r="3.1" fill="#000"/>
<circle cx="573.55" cy="35.50" r="3.1" fill="#000"/>
<circle cx="602.80" cy="35.50" r="3.1" fill="#000"/>
<circle cx="632.05" cy="33.70" r="3.1" fill="#000"/>
<circle cx="661.30" cy="36.50" r="3.1" fill="#000"/>
<path d="M674.2 74.5H692.5" stroke="#000" stroke-width="1.8"/><circle cx="683.3" cy="74.5" r="3" fill="#000"/>
<text transform="translate(697.60,78.10) scale(1.0,1.08)" font-size="13" text-anchor="start" font-weight="normal" font-style="normal" fill="#000">WT</text>
<path d="M674.2 96.3H692.5" stroke="#fc3232" stroke-width="1.8"/><circle cx="683.3" cy="96.3" r="3" fill="#fc3232"/>
<text transform="translate(697.60,99.90) scale(1.0,1.08)" font-size="13" text-anchor="start" font-weight="normal" font-style="normal" fill="#000"><tspan font-style="italic">pyk</tspan>(A218V)</text>
<path d="M674.2 118.5H692.5" stroke="#0e54ff" stroke-width="1.8"/><circle cx="683.3" cy="118.5" r="3" fill="#0e54ff"/>
<text transform="translate(697.60,122.10) scale(1.0,1.08)" font-size="13" text-anchor="start" font-weight="normal" font-style="normal" fill="#000"><tspan font-style="italic">pyk</tspan>(V404E)</text>
<path d="M66 171.5V337.4H314.3" stroke="#000" stroke-width="1.9" fill="none"/>
<path d="M59.3 337.40H66 M59.3 304.30H66 M59.3 271.20H66 M59.3 238.10H66 M59.3 205.00H66 M59.3 171.90H66 M66 337.4V344.2 M190.00 337.4V344.2 M314.00 337.4V344.2 M103.33 337.4V341.4 M125.16 337.4V341.4 M140.66 337.4V341.4 M152.67 337.4V341.4 M162.49 337.4V341.4 M170.79 337.4V341.4 M177.98 337.4V341.4 M184.33 337.4V341.4 M227.33 337.4V341.4 M249.16 337.4V341.4 M264.66 337.4V341.4 M276.67 337.4V341.4 M286.49 337.4V341.4 M294.79 337.4V341.4 M301.98 337.4V341.4 M308.33 337.4V341.4" stroke="#000" stroke-width="1.6" fill="none"/>
<text transform="translate(58.00,175.30) scale(1.0,1.0)" font-size="9.4" text-anchor="end" font-weight="bold" font-style="normal" fill="#000">512</text>
<text transform="translate(58.00,208.40) scale(1.0,1.0)" font-size="9.4" text-anchor="end" font-weight="bold" font-style="normal" fill="#000">256</text>
<text transform="translate(58.00,241.50) scale(1.0,1.0)" font-size="9.4" text-anchor="end" font-weight="bold" font-style="normal" fill="#000">128</text>
<text transform="translate(58.00,274.60) scale(1.0,1.0)" font-size="9.4" text-anchor="end" font-weight="bold" font-style="normal" fill="#000">64</text>
<text transform="translate(58.00,307.70) scale(1.0,1.0)" font-size="9.4" text-anchor="end" font-weight="bold" font-style="normal" fill="#000">32</text>
<text transform="translate(58.00,340.80) scale(1.0,1.0)" font-size="9.4" text-anchor="end" font-weight="bold" font-style="normal" fill="#000">16</text>
<text transform="translate(66.30,355.00) scale(1.0,1.0)" font-size="9.4" text-anchor="middle" font-weight="bold" font-style="normal" fill="#000">10</text>
<text transform="translate(190.30,355.00) scale(1.0,1.0)" font-size="9.4" text-anchor="middle" font-weight="bold" font-style="normal" fill="#000">100</text>
<text transform="translate(314.30,355.00) scale(1.0,1.0)" font-size="9.4" text-anchor="middle" font-weight="bold" font-style="normal" fill="#000">1000</text>
<text transform="translate(193.60,373.30) scale(1.0,1.08)" font-size="13" text-anchor="middle" font-weight="normal" font-style="normal" fill="#000">IPTG (µM)</text>
<text transform="translate(31.20,255.00) rotate(-90) scale(1.0,1.08)" font-size="13" text-anchor="middle" font-weight="normal" font-style="normal" fill="#000">Fosfomycin MIC (µg/mL)</text>
<text transform="translate(103.50,164.30) scale(1.0,1.08)" font-size="12.8" text-anchor="start" font-weight="normal" font-style="normal" fill="#000"><tspan font-style="italic">S. pneumoniae </tspan>Δ<tspan font-style="italic">pyk</tspan>, P<tspan font-size="7.6" dy="3.4">lac</tspan><tspan dy="-3.4" font-style="italic">-pyk</tspan></text>
<polyline points="66.00,205.00 87.84,205.00 103.33,205.00 115.34,238.10 125.16,271.20 140.66,271.20 162.49,271.20 177.98,271.20 190.00,271.20 227.33,271.20 264.66,304.30 286.49,304.30 301.98,304.30 314.00,304.30" fill="none" stroke="#000" stroke-width="2" stroke-linejoin="round"/>
<circle cx="66.00" cy="205.00" r="3.3" fill="#000"/>
<circle cx="87.84" cy="205.00" r="3.3" fill="#000"/>
<circle cx="103.33" cy="205.00" r="3.3" fill="#000"/>
<circle cx="115.34" cy="238.10" r="3.3" fill="#000"/>
<circle cx="125.16" cy="271.20" r="3.3" fill="#000"/>
<circle cx="140.66" cy="271.20" r="3.3" fill="#000"/>
<circle cx="162.49" cy="271.20" r="3.3" fill="#000"/>
<circle cx="177.98" cy="271.20" r="3.3" fill="#000"/>
<circle cx="190.00" cy="271.20" r="3.3" fill="#000"/>
<circle cx="227.33" cy="271.20" r="3.3" fill="#000"/>
<circle cx="264.66" cy="304.30" r="3.3" fill="#000"/>
<circle cx="286.49" cy="304.30" r="3.3" fill="#000"/>
<circle cx="301.98" cy="304.30" r="3.3" fill="#000"/>
<circle cx="314.00" cy="304.30" r="3.3" fill="#000"/>
<rect x="431.3" y="260.8" width="141.9" height="58.8" fill="#5c5c5c"/>
<rect x="431.8" y="261.3" width="140.9" height="57.8" fill="none" stroke="#4a4a4a" stroke-width="1" opacity="0.8"/>
<rect x="581.9" y="260.8" width="142" height="58.8" fill="url(#gD2)"/>
<rect x="582.4" y="261.3" width="141" height="57.8" fill="none" stroke="#3c3c3c" stroke-width="1" opacity="0.8"/>
<text transform="translate(447.00,258.90) scale(1.0,1.08)" font-size="13" text-anchor="middle" font-weight="normal" font-style="normal" fill="#000">10<tspan font-size="7.2" dy="-4.0">0</tspan></text>
<text transform="translate(474.00,258.90) scale(1.0,1.08)" font-size="13" text-anchor="middle" font-weight="normal" font-style="normal" fill="#000">10<tspan font-size="7.2" dy="-4.0">-1</tspan></text>
<text transform="translate(502.20,258.90) scale(1.0,1.08)" font-size="13" text-anchor="middle" font-weight="normal" font-style="normal" fill="#000">10<tspan font-size="7.2" dy="-4.0">-2</tspan></text>
<text transform="translate(531.20,258.90) scale(1.0,1.08)" font-size="13" text-anchor="middle" font-weight="normal" font-style="normal" fill="#000">10<tspan font-size="7.2" dy="-4.0">-3</tspan></text>
<text transform="translate(561.00,258.90) scale(1.0,1.08)" font-size="13" text-anchor="middle" font-weight="normal" font-style="normal" fill="#000">10<tspan font-size="7.2" dy="-4.0">-4</tspan></text>
<text transform="translate(596.90,258.90) scale(1.0,1.08)" font-size="13" text-anchor="middle" font-weight="normal" font-style="normal" fill="#000">10<tspan font-size="7.2" dy="-4.0">0</tspan></text>
<text transform="translate(624.80,258.90) scale(1.0,1.08)" font-size="13" text-anchor="middle" font-weight="normal" font-style="normal" fill="#000">10<tspan font-size="7.2" dy="-4.0">-1</tspan></text>
<text transform="translate(652.80,258.90) scale(1.0,1.08)" font-size="13" text-anchor="middle" font-weight="normal" font-style="normal" fill="#000">10<tspan font-size="7.2" dy="-4.0">-2</tspan></text>
<text transform="translate(682.00,258.90) scale(1.0,1.08)" font-size="13" text-anchor="middle" font-weight="normal" font-style="normal" fill="#000">10<tspan font-size="7.2" dy="-4.0">-3</tspan></text>
<text transform="translate(711.20,258.90) scale(1.0,1.08)" font-size="13" text-anchor="middle" font-weight="normal" font-style="normal" fill="#000">10<tspan font-size="7.2" dy="-4.0">-4</tspan></text>
<ellipse cx="446.8" cy="276.4" rx="11.0" ry="10.6" fill="#fff" opacity="0.2" filter="url(#b2)"/>
<ellipse cx="446.8" cy="276.4" rx="8.6" ry="8.2" fill="#c6c6c6" filter="url(#b1s)"/>
<ellipse cx="473.4" cy="276.1" rx="11.0" ry="10.4" fill="#fff" opacity="0.2" filter="url(#b2)"/>
<ellipse cx="473.4" cy="276.1" rx="8.6" ry="8.0" fill="#c0c0c0" filter="url(#b1s)"/>
<ellipse cx="500.4" cy="276.8" rx="10.3" ry="10.2" fill="#fff" opacity="0.2" filter="url(#b2)"/>
<ellipse cx="500.4" cy="276.8" rx="7.8" ry="7.699999999999999" fill="#b2b2b2" filter="url(#b1s)"/>
<g fill="#e4e4e4" filter="url(#b03)"><circle cx="495.0" cy="277.2" r="0.48"/><circle cx="497.6" cy="283.2" r="0.48"/><circle cx="503.2" cy="279.4" r="0.48"/><circle cx="501.6" cy="283.2" r="0.48"/><circle cx="495.9" cy="276.6" r="0.48"/><circle cx="495.0" cy="280.7" r="0.48"/><circle cx="500.1" cy="283.0" r="0.48"/><circle cx="499.2" cy="272.3" r="0.48"/><circle cx="497.3" cy="280.3" r="0.48"/><circle cx="496.6" cy="277.9" r="0.48"/><circle cx="497.2" cy="273.7" r="0.48"/><circle cx="498.3" cy="282.6" r="0.48"/><circle cx="495.7" cy="278.1" r="0.48"/><circle cx="503.9" cy="273.6" r="0.48"/><circle cx="495.6" cy="281.5" r="0.48"/><circle cx="506.6" cy="275.9" r="0.48"/><circle cx="495.7" cy="280.1" r="0.48"/><circle cx="500.2" cy="273.0" r="0.48"/><circle cx="499.3" cy="270.1" r="0.48"/><circle cx="497.2" cy="272.1" r="0.48"/><circle cx="495.1" cy="279.0" r="0.48"/><circle cx="501.3" cy="282.9" r="0.48"/><circle cx="493.6" cy="275.1" r="0.48"/><circle cx="497.1" cy="281.7" r="0.48"/><circle cx="504.9" cy="277.3" r="0.48"/><circle cx="500.8" cy="273.3" r="0.48"/><circle cx="497.9" cy="274.6" r="0.48"/><circle cx="494.7" cy="281.0" r="0.48"/><circle cx="502.6" cy="283.1" r="0.48"/><circle cx="505.4" cy="278.8" r="0.48"/><circle cx="503.2" cy="271.0" r="0.48"/><circle cx="496.2" cy="280.2" r="0.48"/><circle cx="498.9" cy="270.9" r="0.48"/><circle cx="500.3" cy="271.5" r="0.48"/><circle cx="500.3" cy="282.7" r="0.48"/><circle cx="495.6" cy="274.9" r="0.48"/><circle cx="503.0" cy="276.6" r="0.48"/><circle cx="501.2" cy="272.9" r="0.48"/><circle cx="499.4" cy="270.1" r="0.48"/><circle cx="499.6" cy="282.0" r="0.48"/><circle cx="495.5" cy="275.9" r="0.48"/><circle cx="503.2" cy="281.6" r="0.48"/><circle cx="504.9" cy="273.3" r="0.48"/><circle cx="498.9" cy="282.9" r="0.48"/><circle cx="498.0" cy="278.1" r="0.48"/><circle cx="496.6" cy="273.9" r="0.48"/><circle cx="493.5" cy="275.5" r="0.48"/><circle cx="494.1" cy="273.9" r="0.48"/><circle cx="496.7" cy="281.7" r="0.48"/><circle cx="503.9" cy="278.5" r="0.48"/><circle cx="498.3" cy="271.4" r="0.48"/><circle cx="502.5" cy="273.0" r="0.48"/><circle cx="499.8" cy="280.9" r="0.48"/><circle cx="499.3" cy="276.5" r="0.48"/><circle cx="496.4" cy="280.8" r="0.48"/><circle cx="502.8" cy="279.9" r="0.48"/><circle cx="505.2" cy="272.0" r="0.48"/><circle cx="500.4" cy="279.7" r="0.48"/><circle cx="501.9" cy="278.2" r="0.48"/><circle cx="502.1" cy="271.0" r="0.48"/><circle cx="500.0" cy="281.7" r="0.48"/><circle cx="500.0" cy="275.7" r="0.48"/><circle cx="503.2" cy="270.9" r="0.48"/><circle cx="501.8" cy="282.5" r="0.48"/><circle cx="499.1" cy="272.9" r="0.48"/><circle cx="502.8" cy="274.5" r="0.48"/><circle cx="496.5" cy="277.4" r="0.48"/><circle cx="494.4" cy="279.1" r="0.48"/><circle cx="495.4" cy="274.5" r="0.48"/><circle cx="503.7" cy="276.5" r="0.48"/><circle cx="501.4" cy="282.2" r="0.48"/><circle cx="504.5" cy="282.4" r="0.48"/><circle cx="497.9" cy="280.7" r="0.48"/><circle cx="494.5" cy="279.5" r="0.48"/><circle cx="505.4" cy="273.9" r="0.48"/><circle cx="502.4" cy="280.5" r="0.48"/><circle cx="499.5" cy="273.7" r="0.48"/><circle cx="505.3" cy="272.4" r="0.48"/><circle cx="501.0" cy="281.0" r="0.48"/><circle cx="501.2" cy="282.7" r="0.48"/><circle cx="506.1" cy="278.5" r="0.48"/><circle cx="506.4" cy="279.3" r="0.48"/><circle cx="495.2" cy="275.4" r="0.48"/><circle cx="501.6" cy="277.6" r="0.48"/><circle cx="496.2" cy="282.3" r="0.48"/><circle cx="495.1" cy="273.0" r="0.48"/><circle cx="502.5" cy="277.7" r="0.48"/><circle cx="506.3" cy="277.6" r="0.48"/><circle cx="502.1" cy="280.1" r="0.48"/><circle cx="497.5" cy="271.7" r="0.48"/><circle cx="498.3" cy="281.1" r="0.48"/><circle cx="499.1" cy="281.9" r="0.48"/><circle cx="497.8" cy="280.1" r="0.48"/><circle cx="500.4" cy="280.6" r="0.48"/><circle cx="500.3" cy="277.7" r="0.48"/><circle cx="498.4" cy="281.8" r="0.48"/><circle cx="500.1" cy="279.1" r="0.48"/><circle cx="503.2" cy="272.9" r="0.48"/><circle cx="496.5" cy="276.5" r="0.48"/><circle cx="505.1" cy="272.8" r="0.48"/><circle cx="496.3" cy="272.8" r="0.48"/><circle cx="498.6" cy="272.2" r="0.48"/><circle cx="496.6" cy="279.1" r="0.48"/><circle cx="495.6" cy="276.7" r="0.48"/><circle cx="495.3" cy="275.9" r="0.48"/></g>
<ellipse cx="531.6" cy="277.7" rx="9.3" ry="9.1" fill="#fff" opacity="0.08" filter="url(#b2)"/>
<ellipse cx="531.6" cy="277.7" rx="7.8999999999999995" ry="7.699999999999999" fill="#7c7c7c" filter="url(#b1s)"/>
<g fill="#d6d6d6" filter="url(#b03)"><circle cx="533.2" cy="271.3" r="0.5"/><circle cx="531.8" cy="278.7" r="0.5"/><circle cx="531.2" cy="278.9" r="0.5"/><circle cx="533.2" cy="272.4" r="0.5"/><circle cx="530.9" cy="280.7" r="0.5"/><circle cx="536.0" cy="273.0" r="0.5"/><circle cx="529.2" cy="272.4" r="0.5"/><circle cx="531.4" cy="273.0" r="0.5"/><circle cx="527.3" cy="280.8" r="0.5"/><circle cx="536.8" cy="272.9" r="0.5"/><circle cx="537.3" cy="274.5" r="0.5"/><circle cx="534.8" cy="279.3" r="0.5"/><circle cx="536.8" cy="276.8" r="0.5"/><circle cx="527.6" cy="277.3" r="0.5"/><circle cx="534.9" cy="273.9" r="0.5"/><circle cx="533.6" cy="277.6" r="0.5"/><circle cx="532.4" cy="277.7" r="0.5"/><circle cx="534.3" cy="281.2" r="0.5"/><circle cx="530.1" cy="275.9" r="0.5"/><circle cx="525.2" cy="275.1" r="0.5"/><circle cx="525.8" cy="280.1" r="0.5"/><circle cx="527.0" cy="274.8" r="0.5"/><circle cx="533.9" cy="281.9" r="0.5"/><circle cx="536.4" cy="274.3" r="0.5"/><circle cx="532.6" cy="282.3" r="0.5"/><circle cx="527.6" cy="276.6" r="0.5"/><circle cx="526.6" cy="275.1" r="0.5"/><circle cx="534.9" cy="278.1" r="0.5"/><circle cx="529.8" cy="275.0" r="0.5"/><circle cx="537.2" cy="280.4" r="0.5"/><circle cx="528.1" cy="283.6" r="0.5"/><circle cx="529.5" cy="276.9" r="0.5"/><circle cx="529.2" cy="275.0" r="0.5"/><circle cx="534.0" cy="272.2" r="0.5"/><circle cx="531.7" cy="276.0" r="0.5"/><circle cx="537.9" cy="279.0" r="0.5"/><circle cx="533.6" cy="280.1" r="0.5"/><circle cx="534.5" cy="278.2" r="0.5"/><circle cx="524.7" cy="278.8" r="0.5"/><circle cx="530.0" cy="280.9" r="0.5"/><circle cx="533.0" cy="275.0" r="0.5"/><circle cx="527.9" cy="273.6" r="0.5"/><circle cx="533.0" cy="277.1" r="0.5"/><circle cx="527.5" cy="276.0" r="0.5"/><circle cx="533.2" cy="274.6" r="0.5"/><circle cx="530.9" cy="274.8" r="0.5"/><circle cx="524.5" cy="277.9" r="0.5"/><circle cx="531.8" cy="281.4" r="0.5"/><circle cx="536.7" cy="274.9" r="0.5"/><circle cx="534.4" cy="278.9" r="0.5"/><circle cx="531.9" cy="281.5" r="0.5"/><circle cx="535.0" cy="272.9" r="0.5"/><circle cx="537.4" cy="277.0" r="0.5"/><circle cx="528.5" cy="274.6" r="0.5"/><circle cx="530.6" cy="272.9" r="0.5"/><circle cx="536.3" cy="279.5" r="0.5"/><circle cx="527.7" cy="281.1" r="0.5"/><circle cx="532.7" cy="278.1" r="0.5"/><circle cx="535.9" cy="277.2" r="0.5"/><circle cx="530.3" cy="280.1" r="0.5"/><circle cx="525.9" cy="274.0" r="0.5"/><circle cx="533.8" cy="282.2" r="0.5"/><circle cx="525.3" cy="277.7" r="0.5"/><circle cx="528.4" cy="276.3" r="0.5"/><circle cx="533.9" cy="283.2" r="0.5"/><circle cx="537.5" cy="280.8" r="0.5"/><circle cx="534.7" cy="278.3" r="0.5"/><circle cx="525.1" cy="279.0" r="0.5"/><circle cx="527.1" cy="273.6" r="0.5"/><circle cx="532.0" cy="271.8" r="0.5"/><circle cx="537.8" cy="279.7" r="0.5"/><circle cx="533.3" cy="280.0" r="0.5"/><circle cx="532.8" cy="278.0" r="0.5"/><circle cx="534.8" cy="274.7" r="0.5"/><circle cx="532.9" cy="278.5" r="0.5"/><circle cx="534.8" cy="273.2" r="0.5"/><circle cx="532.8" cy="277.0" r="0.5"/><circle cx="534.5" cy="280.1" r="0.5"/></g>
<g fill="#c4c4c4" filter="url(#b05)"><circle cx="555.8" cy="269.8" r="0.8"/><circle cx="559.9" cy="271.6" r="0.8"/><circle cx="560.5" cy="278.1" r="0.8"/><circle cx="563.6" cy="280" r="0.8"/><circle cx="553.8" cy="280.9" r="0.8"/><circle cx="555.3" cy="266.1" r="0.8"/></g>
<ellipse cx="444" cy="304.8" rx="7.6" ry="7.3" fill="#787878" filter="url(#b1)"/>
<g fill="#9a9a9a" filter="url(#b05)"><circle cx="440" cy="301" r="0.6"/><circle cx="446" cy="306" r="0.6"/><circle cx="441" cy="308" r="0.6"/><circle cx="448" cy="302" r="0.6"/></g>
<ellipse cx="473.2" cy="305" rx="7" ry="7" fill="#606060" filter="url(#b1)"/>
<g fill="#d0d0d0" filter="url(#b05)"><circle cx="471.3" cy="304.3" r="0.8"/></g>
<ellipse cx="595.7" cy="276.3" rx="11.1" ry="10.9" fill="#fff" opacity="0.2" filter="url(#b2)"/>
<ellipse cx="595.7" cy="276.3" rx="8.7" ry="8.5" fill="#c4c4c4" filter="url(#b1s)"/>
<ellipse cx="626.5" cy="277.2" rx="10.9" ry="10.7" fill="#fff" opacity="0.2" filter="url(#b2)"/>
<ellipse cx="626.5" cy="277.2" rx="8.5" ry="8.299999999999999" fill="#c2c2c2" filter="url(#b1s)"/>
<ellipse cx="651.4" cy="275.9" rx="10.7" ry="10.6" fill="#fff" opacity="0.2" filter="url(#b2)"/>
<ellipse cx="651.4" cy="275.9" rx="8.299999999999999" ry="8.2" fill="#b8b8b8" filter="url(#b1s)"/>
<ellipse cx="682.1" cy="277.8" rx="8.9" ry="8.9" fill="#fff" opacity="0.08" filter="url(#b2)"/>
<ellipse cx="682.1" cy="277.8" rx="7.5" ry="7.5" fill="#888888" filter="url(#b1s)"/>
<g fill="#b4b4b4" filter="url(#b03)"><circle cx="682.9" cy="279.9" r="0.5"/><circle cx="683.8" cy="283.0" r="0.5"/><circle cx="683.5" cy="280.2" r="0.5"/><circle cx="678.0" cy="276.9" r="0.5"/><circle cx="685.1" cy="281.9" r="0.5"/><circle cx="677.9" cy="277.6" r="0.5"/><circle cx="680.8" cy="278.0" r="0.5"/><circle cx="679.9" cy="275.8" r="0.5"/><circle cx="681.8" cy="278.4" r="0.5"/><circle cx="686.1" cy="274.4" r="0.5"/><circle cx="678.2" cy="280.9" r="0.5"/><circle cx="684.4" cy="276.9" r="0.5"/><circle cx="677.8" cy="281.6" r="0.5"/><circle cx="678.1" cy="281.9" r="0.5"/><circle cx="683.3" cy="277.0" r="0.5"/><circle cx="681.3" cy="281.4" r="0.5"/><circle cx="682.1" cy="271.8" r="0.5"/><circle cx="680.1" cy="271.6" r="0.5"/><circle cx="683.8" cy="281.7" r="0.5"/><circle cx="685.7" cy="273.0" r="0.5"/><circle cx="687.2" cy="282.2" r="0.5"/><circle cx="681.7" cy="271.5" r="0.5"/><circle cx="678.7" cy="281.8" r="0.5"/><circle cx="688.3" cy="276.1" r="0.5"/><circle cx="676.4" cy="274.8" r="0.5"/><circle cx="688.3" cy="277.8" r="0.5"/><circle cx="678.4" cy="272.3" r="0.5"/><circle cx="684.8" cy="281.2" r="0.5"/><circle cx="679.8" cy="276.8" r="0.5"/><circle cx="682.4" cy="276.1" r="0.5"/><circle cx="679.6" cy="275.2" r="0.5"/><circle cx="679.8" cy="282.6" r="0.5"/><circle cx="683.7" cy="282.0" r="0.5"/><circle cx="686.3" cy="272.5" r="0.5"/><circle cx="681.8" cy="281.9" r="0.5"/><circle cx="681.1" cy="275.0" r="0.5"/><circle cx="683.9" cy="275.3" r="0.5"/><circle cx="678.4" cy="276.4" r="0.5"/><circle cx="682.3" cy="277.8" r="0.5"/><circle cx="686.0" cy="277.8" r="0.5"/><circle cx="681.0" cy="284.5" r="0.5"/><circle cx="681.0" cy="276.5" r="0.5"/><circle cx="681.4" cy="274.6" r="0.5"/><circle cx="676.4" cy="278.5" r="0.5"/><circle cx="686.2" cy="272.6" r="0.5"/><circle cx="678.7" cy="279.6" r="0.5"/><circle cx="679.1" cy="280.1" r="0.5"/><circle cx="681.9" cy="273.2" r="0.5"/><circle cx="681.1" cy="275.4" r="0.5"/><circle cx="683.5" cy="271.2" r="0.5"/><circle cx="683.7" cy="282.9" r="0.5"/><circle cx="682.8" cy="278.9" r="0.5"/><circle cx="679.6" cy="279.3" r="0.5"/><circle cx="681.5" cy="272.7" r="0.5"/><circle cx="679.0" cy="271.8" r="0.5"/><circle cx="684.1" cy="278.6" r="0.5"/><circle cx="686.6" cy="278.8" r="0.5"/><circle cx="684.6" cy="272.8" r="0.5"/><circle cx="676.1" cy="275.9" r="0.5"/><circle cx="680.5" cy="279.4" r="0.5"/><circle cx="681.4" cy="277.0" r="0.5"/><circle cx="682.3" cy="279.0" r="0.5"/><circle cx="683.0" cy="279.3" r="0.5"/><circle cx="679.7" cy="277.3" r="0.5"/><circle cx="677.2" cy="274.1" r="0.5"/><circle cx="680.8" cy="279.8" r="0.5"/><circle cx="679.3" cy="272.7" r="0.5"/><circle cx="685.9" cy="274.4" r="0.5"/><circle cx="676.6" cy="274.7" r="0.5"/><circle cx="679.1" cy="271.8" r="0.5"/><circle cx="680.7" cy="283.6" r="0.5"/></g>
<g fill="#c4c4c4" filter="url(#b05)"><circle cx="709" cy="271.3" r="0.8"/><circle cx="711.8" cy="271.3" r="0.8"/><circle cx="717" cy="271.3" r="0.8"/><circle cx="706.2" cy="276.8" r="0.8"/><circle cx="712.7" cy="279.6" r="0.8"/><circle cx="712.7" cy="282.8" r="0.8"/><circle cx="718.3" cy="276.8" r="0.8"/></g>
<ellipse cx="594.5" cy="308.3" rx="11.0" ry="10.799999999999999" fill="#fff" opacity="0.2" filter="url(#b2)"/>
<ellipse cx="594.5" cy="308.3" rx="8.6" ry="8.399999999999999" fill="#c2c2c2" filter="url(#b1s)"/>
<ellipse cx="624.4" cy="308" rx="10.7" ry="10.6" fill="#fff" opacity="0.2" filter="url(#b2)"/>
<ellipse cx="624.4" cy="308" rx="8.299999999999999" ry="8.2" fill="#c0c0c0" filter="url(#b1s)"/>
<ellipse cx="654" cy="309.3" rx="10.6" ry="10.5" fill="#fff" opacity="0.2" filter="url(#b2)"/>
<ellipse cx="654" cy="309.3" rx="8.2" ry="8.1" fill="#b6b6b6" filter="url(#b1s)"/>
<ellipse cx="682.1" cy="309" rx="8.9" ry="8.9" fill="#fff" opacity="0.08" filter="url(#b2)"/>
<ellipse cx="682.1" cy="309" rx="7.5" ry="7.5" fill="#858585" filter="url(#b1s)"/>
<g fill="#b0b0b0" filter="url(#b03)"><circle cx="679.0" cy="305.5" r="0.5"/><circle cx="686.8" cy="309.3" r="0.5"/><circle cx="681.7" cy="314.3" r="0.5"/><circle cx="677.2" cy="308.7" r="0.5"/><circle cx="684.4" cy="309.9" r="0.5"/><circle cx="677.7" cy="305.5" r="0.5"/><circle cx="688.2" cy="308.6" r="0.5"/><circle cx="681.0" cy="313.5" r="0.5"/><circle cx="676.0" cy="308.8" r="0.5"/><circle cx="677.0" cy="313.0" r="0.5"/><circle cx="677.8" cy="309.4" r="0.5"/><circle cx="678.1" cy="309.5" r="0.5"/><circle cx="683.6" cy="309.0" r="0.5"/><circle cx="680.6" cy="310.1" r="0.5"/><circle cx="680.9" cy="306.6" r="0.5"/><circle cx="684.7" cy="312.6" r="0.5"/><circle cx="677.3" cy="305.4" r="0.5"/><circle cx="678.6" cy="310.3" r="0.5"/><circle cx="677.8" cy="313.7" r="0.5"/><circle cx="682.3" cy="309.7" r="0.5"/><circle cx="685.7" cy="305.9" r="0.5"/><circle cx="683.8" cy="310.9" r="0.5"/><circle cx="686.6" cy="305.3" r="0.5"/><circle cx="687.2" cy="311.2" r="0.5"/><circle cx="683.1" cy="313.4" r="0.5"/><circle cx="680.9" cy="308.1" r="0.5"/><circle cx="685.7" cy="307.4" r="0.5"/><circle cx="685.8" cy="313.7" r="0.5"/><circle cx="683.1" cy="309.8" r="0.5"/><circle cx="679.4" cy="305.2" r="0.5"/><circle cx="687.0" cy="305.5" r="0.5"/><circle cx="682.5" cy="310.4" r="0.5"/><circle cx="678.4" cy="306.2" r="0.5"/><circle cx="680.0" cy="315.2" r="0.5"/><circle cx="683.5" cy="314.3" r="0.5"/><circle cx="688.0" cy="311.9" r="0.5"/><circle cx="687.2" cy="307.3" r="0.5"/><circle cx="679.6" cy="314.2" r="0.5"/><circle cx="687.1" cy="305.5" r="0.5"/><circle cx="686.8" cy="310.2" r="0.5"/><circle cx="685.3" cy="312.9" r="0.5"/><circle cx="688.1" cy="307.0" r="0.5"/><circle cx="682.1" cy="314.1" r="0.5"/><circle cx="681.0" cy="311.5" r="0.5"/><circle cx="681.9" cy="303.1" r="0.5"/><circle cx="679.8" cy="312.8" r="0.5"/><circle cx="680.2" cy="303.5" r="0.5"/><circle cx="679.8" cy="309.5" r="0.5"/><circle cx="684.4" cy="310.6" r="0.5"/><circle cx="684.3" cy="304.7" r="0.5"/><circle cx="679.6" cy="305.8" r="0.5"/><circle cx="680.2" cy="311.1" r="0.5"/><circle cx="687.3" cy="308.2" r="0.5"/><circle cx="686.0" cy="313.1" r="0.5"/><circle cx="677.7" cy="305.9" r="0.5"/><circle cx="682.8" cy="303.7" r="0.5"/><circle cx="686.9" cy="304.3" r="0.5"/><circle cx="677.5" cy="312.0" r="0.5"/><circle cx="679.0" cy="312.1" r="0.5"/><circle cx="678.4" cy="313.1" r="0.5"/><circle cx="679.7" cy="312.2" r="0.5"/><circle cx="685.6" cy="304.0" r="0.5"/><circle cx="679.3" cy="303.4" r="0.5"/><circle cx="678.0" cy="312.6" r="0.5"/><circle cx="682.1" cy="312.8" r="0.5"/><circle cx="687.0" cy="312.6" r="0.5"/><circle cx="685.4" cy="307.2" r="0.5"/><circle cx="680.4" cy="310.6" r="0.5"/><circle cx="685.5" cy="313.2" r="0.5"/><circle cx="683.6" cy="307.8" r="0.5"/><circle cx="681.9" cy="314.9" r="0.5"/></g>
<g fill="#c4c4c4" filter="url(#b05)"><circle cx="708" cy="301.3" r="0.8"/><circle cx="709.9" cy="302.4" r="0.8"/><circle cx="715.1" cy="300.9" r="0.8"/><circle cx="705.8" cy="305" r="0.8"/><circle cx="710.3" cy="304.6" r="0.8"/><circle cx="718.3" cy="306.1" r="0.8"/><circle cx="706.6" cy="310.6" r="0.8"/></g>
<text transform="translate(424.00,280.40) scale(1.0,1.08)" font-size="13" text-anchor="end" font-weight="normal" font-style="normal" fill="#000">WT</text>
<text transform="translate(424.00,308.80) scale(1.0,1.08)" font-size="13" text-anchor="end" font-weight="normal" font-style="normal" fill="#000">Δ<tspan font-style="italic">pyk</tspan>, P<tspan font-size="7.6" dy="4">lac</tspan><tspan dy="-4">-</tspan><tspan font-style="italic">pyk</tspan></text>
<text transform="translate(499.80,334.80) scale(1.0,1.08)" font-size="13" text-anchor="middle" font-weight="normal" font-style="normal" fill="#000">- IPTG</text>
<text transform="translate(652.60,334.80) scale(1.0,1.08)" font-size="13" text-anchor="middle" font-weight="normal" font-style="normal" fill="#000">+ 1 mM IPTG</text>
</svg></body></html>
